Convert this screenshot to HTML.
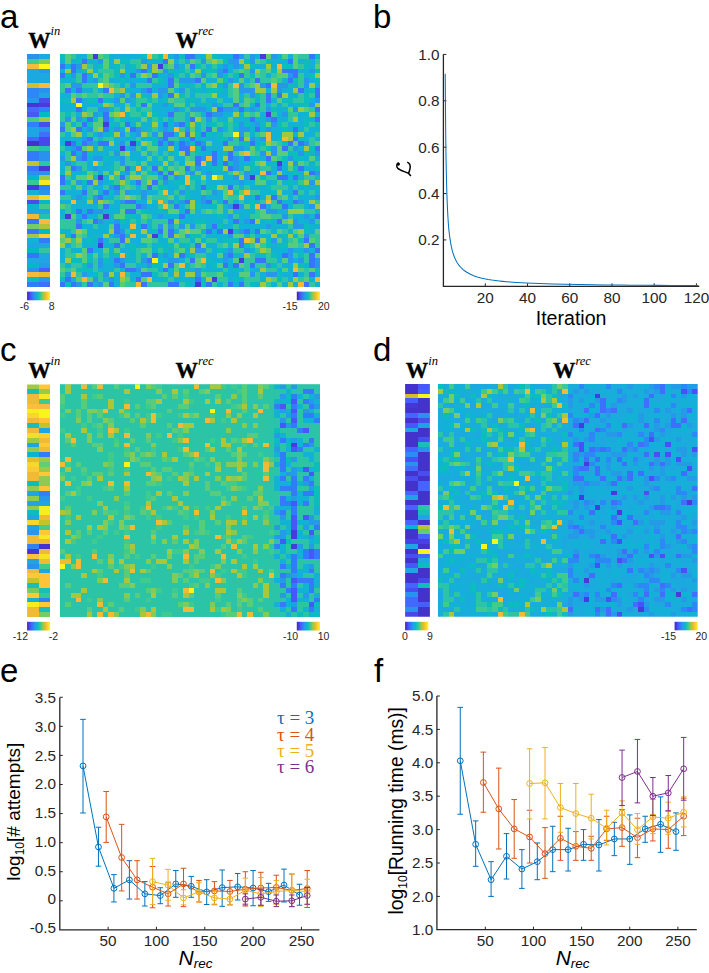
<!DOCTYPE html><html><head><meta charset="utf-8"><style>html,body{margin:0;padding:0;background:#fff;width:709px;height:973px;overflow:hidden}svg{display:block}</style></head><body>
<svg width="709" height="973" viewBox="0 0 709 973" style="position:absolute;left:0;top:0">
<g stroke-width="1" fill="none">
</g>
<svg x="60" y="54" width="260" height="233" viewBox="0 0 48 48" preserveAspectRatio="none" shape-rendering="crispEdges"><path stroke="#463cde" d="M6 0.5h1M37 0.5h1M18 2.5h1M38 12.5h1M8 14.5h1M1 18.5h1M13 18.5h1M11 19.5h1M40 22.5h1M7 25.5h1M35 25.5h1M32 31.5h1M1 33.5h1M8 33.5h1M31 36.5h1M17 37.5h1M7 39.5h1M33 42.5h1M28 46.5h1M25 47.5h1"/><path stroke="#3875fe" d="M23 0.5h2M32 0.5h1M46 0.5h1M4 1.5h1M19 1.5h1M42 1.5h1M0 2.5h1M2 2.5h1M24 2.5h1M2 3.5h1M15 3.5h1M30 3.5h1M41 3.5h3M0 4.5h1M4 4.5h1M13 4.5h1M17 4.5h1M33 4.5h1M43 4.5h1M4 5.5h1M16 5.5h1M20 5.5h1M25 5.5h1M36 5.5h1M42 5.5h1M20 6.5h1M38 6.5h1M1 7.5h1M3 7.5h1M8 7.5h1M16 7.5h1M44 7.5h1M47 7.5h1M20 8.5h1M38 8.5h1M40 8.5h1M47 8.5h1M3 9.5h1M7 9.5h1M38 9.5h1M15 10.5h1M32 10.5h1M36 10.5h1M3 11.5h1M29 11.5h1M33 11.5h1M47 11.5h1M8 12.5h1M20 12.5h1M27 12.5h1M5 13.5h1M8 13.5h1M24 13.5h1M35 13.5h1M39 13.5h1M47 13.5h1M4 14.5h1M12 14.5h1M19 14.5h1M22 14.5h1M0 15.5h1M3 15.5h1M8 15.5h1M13 15.5h1M27 15.5h1M36 15.5h1M43 15.5h1M19 16.5h2M23 16.5h1M26 16.5h1M5 17.5h1M19 17.5h1M24 17.5h1M33 17.5h1M43 17.5h1M2 18.5h1M4 18.5h1M7 18.5h2M18 18.5h1M20 18.5h1M22 18.5h1M25 18.5h1M30 18.5h1M35 18.5h1M42 18.5h1M44 18.5h1M3 19.5h1M22 19.5h2M26 19.5h1M41 19.5h1M47 19.5h1M2 20.5h1M4 20.5h1M23 20.5h1M28 20.5h1M31 20.5h1M4 21.5h1M25 21.5h1M28 21.5h1M31 21.5h1M34 21.5h1M38 21.5h1M25 22.5h1M28 22.5h1M30 22.5h1M2 23.5h1M12 23.5h1M17 23.5h1M23 23.5h1M31 23.5h1M40 23.5h1M44 23.5h1M18 24.5h1M20 24.5h1M38 24.5h1M46 24.5h1M0 25.5h1M11 25.5h1M19 25.5h1M40 25.5h2M43 25.5h1M0 26.5h1M5 26.5h1M14 26.5h1M17 26.5h1M10 27.5h1M16 27.5h1M26 27.5h1M31 27.5h1M0 28.5h1M4 28.5h1M8 28.5h1M43 28.5h1M7 29.5h1M36 29.5h1M39 29.5h1M12 30.5h2M23 30.5h1M27 30.5h1M30 30.5h1M40 30.5h1M43 30.5h1M8 31.5h1M14 31.5h1M21 31.5h1M37 31.5h1M41 31.5h1M3 32.5h1M5 32.5h1M12 32.5h2M23 32.5h1M4 33.5h1M22 33.5h1M47 33.5h1M6 34.5h1M20 34.5h1M32 34.5h1M35 34.5h1M40 34.5h1M3 35.5h1M10 35.5h1M15 35.5h1M28 35.5h1M10 36.5h1M18 36.5h1M20 36.5h1M27 36.5h1M29 36.5h1M34 36.5h1M36 36.5h1M2 37.5h1M11 37.5h1M20 37.5h1M7 38.5h1M11 38.5h1M33 38.5h1M36 38.5h1M45 38.5h1M10 39.5h1M25 39.5h1M33 39.5h1M46 39.5h1M5 40.5h1M47 40.5h1M17 41.5h1M22 41.5h1M31 41.5h1M41 41.5h1M46 41.5h1M10 42.5h1M16 42.5h1M24 42.5h1M36 42.5h2M46 42.5h1M11 43.5h1M20 43.5h1M30 43.5h1M32 43.5h1M35 43.5h1M46 43.5h1M12 44.5h2M19 44.5h1M15 45.5h2M43 45.5h1M46 45.5h1M1 46.5h1M14 46.5h1M25 46.5h1M0 47.5h1M2 47.5h1M5 47.5h1M9 47.5h1M15 47.5h1M20 47.5h2M27 47.5h1M31 47.5h1M33 47.5h1M45 47.5h1"/><path stroke="#2797eb" d="M21 0.5h1M33 0.5h1M35 0.5h1M39 0.5h1M7 1.5h1M15 1.5h1M26 1.5h1M31 1.5h2M35 1.5h1M3 2.5h1M16 2.5h1M21 2.5h1M30 2.5h1M32 2.5h1M14 3.5h1M19 3.5h1M29 3.5h1M35 3.5h1M46 3.5h1M2 4.5h1M11 4.5h1M20 4.5h1M26 4.5h1M29 4.5h1M42 4.5h1M6 5.5h1M22 5.5h3M31 5.5h1M45 5.5h1M2 6.5h2M13 6.5h1M30 6.5h1M33 6.5h1M37 6.5h1M40 6.5h2M45 6.5h1M15 7.5h1M18 7.5h2M22 7.5h1M33 7.5h3M40 7.5h1M11 8.5h1M13 8.5h1M18 8.5h1M35 8.5h1M10 9.5h1M12 9.5h1M47 9.5h1M19 10.5h1M28 10.5h1M46 10.5h1M7 11.5h2M21 11.5h1M24 11.5h3M30 11.5h2M35 11.5h1M38 11.5h1M43 11.5h1M6 12.5h1M28 12.5h2M41 12.5h1M1 13.5h1M3 13.5h1M27 13.5h1M38 13.5h1M0 14.5h1M21 14.5h1M33 14.5h1M36 14.5h1M39 14.5h1M5 15.5h1M10 15.5h1M14 15.5h1M19 15.5h1M23 15.5h1M29 15.5h1M33 15.5h2M38 15.5h1M7 16.5h1M11 16.5h1M14 16.5h1M17 16.5h1M33 16.5h1M4 17.5h1M18 17.5h1M31 17.5h1M35 17.5h1M37 17.5h1M5 18.5h1M11 18.5h1M23 18.5h1M26 18.5h1M45 18.5h1M2 19.5h1M13 19.5h1M32 19.5h2M39 19.5h1M43 19.5h1M10 20.5h1M37 20.5h1M39 20.5h1M44 20.5h1M47 20.5h1M0 21.5h1M3 21.5h1M6 21.5h2M11 21.5h1M26 21.5h1M32 21.5h1M42 21.5h1M1 22.5h1M11 22.5h1M32 22.5h1M43 22.5h1M3 23.5h1M6 23.5h1M25 23.5h1M32 23.5h1M12 24.5h1M24 24.5h1M27 24.5h1M34 24.5h1M47 24.5h1M21 25.5h1M32 25.5h1M34 25.5h1M3 26.5h1M7 26.5h1M19 26.5h1M33 26.5h1M46 26.5h1M9 27.5h1M10 28.5h1M12 28.5h1M15 28.5h1M22 28.5h1M28 28.5h1M3 29.5h1M6 29.5h1M15 29.5h1M26 29.5h1M47 29.5h1M6 30.5h1M11 30.5h1M20 30.5h1M22 30.5h1M26 30.5h1M44 30.5h1M15 31.5h1M31 31.5h1M33 31.5h1M46 31.5h1M6 32.5h2M38 32.5h2M18 33.5h1M31 33.5h1M41 33.5h1M45 33.5h1M3 34.5h1M7 34.5h1M10 34.5h1M34 34.5h1M43 34.5h1M46 34.5h1M18 35.5h1M20 35.5h1M22 35.5h1M24 35.5h1M38 35.5h1M43 35.5h2M11 36.5h1M33 36.5h1M10 37.5h1M23 37.5h1M31 37.5h1M45 37.5h1M39 38.5h1M25 40.5h2M31 40.5h1M34 40.5h1M42 40.5h1M45 40.5h1M19 41.5h1M30 41.5h1M42 41.5h1M7 42.5h1M11 42.5h1M15 42.5h1M20 42.5h2M30 42.5h1M42 42.5h1M44 42.5h1M47 42.5h1M5 43.5h1M7 43.5h1M10 43.5h1M16 43.5h1M38 43.5h1M47 43.5h1M14 44.5h1M25 44.5h1M1 45.5h1M4 45.5h1M8 45.5h1M25 45.5h1M35 45.5h1M38 45.5h2M6 46.5h1M9 46.5h1M3 47.5h1M7 47.5h1"/><path stroke="#12b1d6" d="M3 0.5h2M9 0.5h6M20 0.5h1M25 0.5h2M29 0.5h3M36 0.5h1M40 0.5h1M42 0.5h1M0 1.5h1M2 1.5h1M5 1.5h2M9 1.5h1M16 1.5h3M21 1.5h1M23 1.5h1M39 1.5h3M44 1.5h1M46 1.5h1M1 2.5h1M6 2.5h1M9 2.5h1M12 2.5h1M22 2.5h1M27 2.5h1M29 2.5h1M31 2.5h1M33 2.5h1M36 2.5h2M39 2.5h1M46 2.5h1M0 3.5h1M3 3.5h1M6 3.5h1M12 3.5h2M16 3.5h1M21 3.5h1M24 3.5h1M26 3.5h1M31 3.5h1M44 3.5h2M5 4.5h1M18 4.5h2M23 4.5h1M38 4.5h1M45 4.5h1M0 5.5h3M5 5.5h1M9 5.5h2M12 5.5h4M19 5.5h1M27 5.5h2M32 5.5h1M34 5.5h1M41 5.5h1M46 5.5h1M11 6.5h1M17 6.5h3M23 6.5h1M26 6.5h1M29 6.5h1M43 6.5h1M47 6.5h1M2 7.5h1M4 7.5h2M7 7.5h1M12 7.5h3M17 7.5h1M21 7.5h1M24 7.5h1M26 7.5h1M30 7.5h1M38 7.5h1M41 7.5h2M45 7.5h1M0 8.5h2M10 8.5h1M16 8.5h1M19 8.5h1M24 8.5h1M29 8.5h2M33 8.5h1M42 8.5h2M4 9.5h1M9 9.5h1M13 9.5h1M18 9.5h1M23 9.5h1M25 9.5h1M27 9.5h2M30 9.5h2M33 9.5h1M36 9.5h1M39 9.5h1M46 9.5h1M0 10.5h3M4 10.5h3M10 10.5h2M13 10.5h1M17 10.5h2M20 10.5h1M23 10.5h1M25 10.5h2M29 10.5h1M35 10.5h1M38 10.5h1M40 10.5h1M42 10.5h2M0 11.5h3M4 11.5h1M9 11.5h1M11 11.5h1M17 11.5h4M22 11.5h1M27 11.5h1M32 11.5h1M34 11.5h1M36 11.5h1M40 11.5h2M3 12.5h1M7 12.5h1M18 12.5h2M23 12.5h1M26 12.5h1M30 12.5h2M33 12.5h1M37 12.5h1M40 12.5h1M44 12.5h2M47 12.5h1M9 13.5h1M12 13.5h1M14 13.5h1M16 13.5h1M20 13.5h1M23 13.5h1M29 13.5h2M32 13.5h3M36 13.5h2M40 13.5h2M44 13.5h1M46 13.5h1M2 14.5h1M10 14.5h1M13 14.5h1M15 14.5h2M18 14.5h1M20 14.5h1M27 14.5h1M35 14.5h1M42 14.5h3M4 15.5h1M9 15.5h1M11 15.5h1M15 15.5h1M18 15.5h1M20 15.5h1M25 15.5h1M30 15.5h1M32 15.5h1M35 15.5h1M37 15.5h1M39 15.5h2M42 15.5h1M44 15.5h1M46 15.5h2M1 16.5h1M4 16.5h1M6 16.5h1M8 16.5h1M13 16.5h1M21 16.5h1M28 16.5h1M35 16.5h1M39 16.5h2M43 16.5h1M45 16.5h2M0 17.5h4M10 17.5h4M15 17.5h2M22 17.5h1M25 17.5h1M27 17.5h2M36 17.5h1M39 17.5h1M47 17.5h1M0 18.5h1M6 18.5h1M10 18.5h1M14 18.5h1M19 18.5h1M21 18.5h1M28 18.5h2M36 18.5h1M1 19.5h1M6 19.5h1M8 19.5h3M12 19.5h1M15 19.5h1M18 19.5h2M21 19.5h1M27 19.5h3M34 19.5h1M44 19.5h1M0 20.5h1M3 20.5h1M6 20.5h3M13 20.5h2M16 20.5h1M18 20.5h1M20 20.5h1M26 20.5h2M29 20.5h1M46 20.5h1M5 21.5h1M9 21.5h2M13 21.5h3M17 21.5h1M19 21.5h1M21 21.5h2M29 21.5h1M33 21.5h1M35 21.5h1M37 21.5h1M45 21.5h1M47 21.5h1M0 22.5h1M5 22.5h1M8 22.5h2M16 22.5h3M20 22.5h1M22 22.5h1M29 22.5h1M33 22.5h2M38 22.5h1M41 22.5h1M46 22.5h1M0 23.5h1M5 23.5h1M7 23.5h2M15 23.5h1M26 23.5h2M33 23.5h1M36 23.5h1M39 23.5h1M41 23.5h1M45 23.5h2M2 24.5h2M7 24.5h1M9 24.5h1M11 24.5h1M14 24.5h1M17 24.5h1M23 24.5h1M26 24.5h1M28 24.5h3M35 24.5h2M39 24.5h1M41 24.5h2M44 24.5h1M2 25.5h1M6 25.5h1M8 25.5h1M18 25.5h1M22 25.5h1M27 25.5h1M30 25.5h2M42 25.5h1M44 25.5h1M1 26.5h1M8 26.5h1M13 26.5h1M20 26.5h1M25 26.5h1M27 26.5h6M34 26.5h2M38 26.5h1M41 26.5h1M43 26.5h1M4 27.5h1M6 27.5h2M14 27.5h1M20 27.5h2M23 27.5h1M25 27.5h1M33 27.5h1M35 27.5h3M42 27.5h1M44 27.5h1M46 27.5h1M1 28.5h3M7 28.5h1M13 28.5h2M16 28.5h2M20 28.5h1M24 28.5h2M29 28.5h1M37 28.5h2M41 28.5h2M45 28.5h1M47 28.5h1M2 29.5h1M4 29.5h1M8 29.5h2M21 29.5h1M24 29.5h2M27 29.5h3M34 29.5h2M37 29.5h1M42 29.5h1M44 29.5h3M0 30.5h2M3 30.5h2M10 30.5h1M14 30.5h2M25 30.5h1M29 30.5h1M32 30.5h1M34 30.5h1M36 30.5h1M41 30.5h2M45 30.5h1M2 31.5h5M9 31.5h2M16 31.5h2M22 31.5h1M26 31.5h2M30 31.5h1M38 31.5h1M42 31.5h1M45 31.5h1M0 32.5h1M4 32.5h1M8 32.5h3M16 32.5h2M19 32.5h1M22 32.5h1M25 32.5h1M30 32.5h1M32 32.5h4M40 32.5h2M47 32.5h1M0 33.5h1M3 33.5h1M5 33.5h2M9 33.5h1M14 33.5h1M17 33.5h1M19 33.5h3M23 33.5h6M30 33.5h1M33 33.5h2M43 33.5h2M46 33.5h1M8 34.5h2M12 34.5h1M16 34.5h1M23 34.5h2M27 34.5h3M31 34.5h1M33 34.5h1M37 34.5h1M39 34.5h1M44 34.5h2M4 35.5h2M7 35.5h2M11 35.5h2M14 35.5h1M16 35.5h1M27 35.5h1M30 35.5h2M33 35.5h5M39 35.5h3M46 35.5h2M0 36.5h2M5 36.5h4M14 36.5h1M16 36.5h1M21 36.5h1M26 36.5h1M28 36.5h1M32 36.5h1M35 36.5h1M39 36.5h1M42 36.5h1M46 36.5h1M1 37.5h1M5 37.5h1M7 37.5h1M9 37.5h1M12 37.5h1M14 37.5h2M18 37.5h1M27 37.5h4M34 37.5h1M36 37.5h3M40 37.5h1M43 37.5h1M4 38.5h1M6 38.5h1M8 38.5h1M13 38.5h2M18 38.5h2M21 38.5h1M24 38.5h1M26 38.5h1M29 38.5h1M41 38.5h1M1 39.5h1M4 39.5h3M8 39.5h2M12 39.5h1M14 39.5h2M17 39.5h1M19 39.5h1M22 39.5h1M27 39.5h2M39 39.5h1M0 40.5h1M2 40.5h2M6 40.5h2M9 40.5h1M11 40.5h2M17 40.5h1M20 40.5h1M23 40.5h1M28 40.5h1M30 40.5h1M35 40.5h1M39 40.5h3M43 40.5h2M46 40.5h1M0 41.5h1M7 41.5h1M9 41.5h1M13 41.5h1M15 41.5h1M18 41.5h1M20 41.5h1M23 41.5h1M27 41.5h2M32 41.5h2M40 41.5h1M0 42.5h1M9 42.5h1M12 42.5h2M18 42.5h2M22 42.5h1M28 42.5h2M31 42.5h1M40 42.5h1M43 42.5h1M1 43.5h1M8 43.5h2M14 43.5h2M23 43.5h1M27 43.5h1M31 43.5h1M41 43.5h2M45 43.5h1M7 44.5h3M11 44.5h1M18 44.5h1M20 44.5h1M22 44.5h1M24 44.5h1M27 44.5h3M31 44.5h1M33 44.5h1M35 44.5h2M40 44.5h1M42 44.5h1M5 45.5h1M10 45.5h1M13 45.5h2M20 45.5h1M22 45.5h1M31 45.5h2M37 45.5h1M41 45.5h2M44 45.5h1M47 45.5h1M2 46.5h1M8 46.5h1M10 46.5h1M13 46.5h1M17 46.5h2M21 46.5h4M26 46.5h1M31 46.5h1M33 46.5h1M37 46.5h1M42 46.5h1M46 46.5h1M6 47.5h1M10 47.5h1M24 47.5h1M29 47.5h1M32 47.5h1M36 47.5h1M39 47.5h1M41 47.5h1M43 47.5h1M47 47.5h1"/><path stroke="#0bbdbd" d="M0 0.5h1M15 0.5h1M18 0.5h1M22 0.5h1M28 0.5h1M47 0.5h1M3 1.5h1M11 1.5h2M30 1.5h1M34 1.5h1M38 1.5h1M45 1.5h1M7 2.5h1M10 2.5h1M13 2.5h1M25 2.5h1M35 2.5h1M41 2.5h2M45 2.5h1M4 3.5h1M10 3.5h1M20 3.5h1M22 3.5h1M27 3.5h2M39 3.5h1M47 3.5h1M1 4.5h1M7 4.5h1M10 4.5h1M12 4.5h1M21 4.5h1M30 4.5h1M32 4.5h1M35 4.5h1M46 4.5h1M11 5.5h1M18 5.5h1M30 5.5h1M43 5.5h1M47 5.5h1M22 6.5h1M24 6.5h1M42 6.5h1M25 7.5h1M27 7.5h3M46 7.5h1M15 8.5h1M22 8.5h1M36 8.5h1M45 8.5h1M0 9.5h2M5 9.5h2M8 9.5h1M16 9.5h1M19 9.5h1M24 9.5h1M41 9.5h2M45 9.5h1M7 10.5h1M27 10.5h1M44 10.5h2M14 11.5h1M39 11.5h1M1 12.5h1M12 12.5h1M15 12.5h1M17 12.5h1M4 13.5h1M6 13.5h1M11 13.5h1M13 13.5h1M18 13.5h1M45 13.5h1M5 14.5h1M9 14.5h1M23 14.5h1M25 14.5h1M28 14.5h1M30 14.5h1M32 14.5h1M34 14.5h1M37 14.5h1M40 14.5h1M45 14.5h1M47 14.5h1M16 15.5h1M41 15.5h1M9 16.5h1M25 16.5h1M27 16.5h1M29 16.5h1M7 17.5h1M17 17.5h1M23 17.5h1M26 17.5h1M29 17.5h2M40 17.5h1M44 17.5h2M3 18.5h1M17 18.5h1M24 18.5h1M33 18.5h2M37 18.5h1M41 18.5h1M25 19.5h1M36 19.5h1M38 19.5h1M46 19.5h1M5 20.5h1M21 20.5h1M25 20.5h1M30 20.5h1M42 20.5h2M45 20.5h1M8 21.5h1M36 21.5h1M41 21.5h1M43 21.5h2M2 22.5h1M14 22.5h1M27 22.5h1M31 22.5h1M35 22.5h1M39 22.5h1M9 23.5h1M13 23.5h1M19 23.5h1M28 23.5h2M35 23.5h1M43 23.5h1M47 23.5h1M0 24.5h1M4 24.5h1M16 24.5h1M43 24.5h1M24 25.5h2M37 25.5h1M47 25.5h1M4 26.5h1M9 26.5h1M21 26.5h2M39 26.5h1M42 26.5h1M2 27.5h1M18 27.5h2M27 27.5h2M38 27.5h1M45 27.5h1M47 27.5h1M9 28.5h1M23 28.5h1M32 28.5h1M39 28.5h1M23 29.5h1M17 30.5h1M21 30.5h1M35 30.5h1M25 31.5h1M28 31.5h1M35 31.5h1M2 32.5h1M15 32.5h1M18 32.5h1M12 33.5h2M29 33.5h1M11 34.5h1M14 34.5h1M22 34.5h1M25 34.5h2M38 34.5h1M29 35.5h1M45 35.5h1M13 36.5h1M17 36.5h1M45 36.5h1M6 37.5h1M24 37.5h2M41 37.5h1M5 38.5h1M30 38.5h3M38 38.5h1M44 38.5h1M13 39.5h1M18 39.5h1M20 39.5h1M23 39.5h1M31 39.5h1M34 39.5h1M38 39.5h1M40 39.5h2M13 40.5h1M19 40.5h1M29 40.5h1M5 41.5h1M10 41.5h1M12 41.5h1M24 41.5h1M36 41.5h2M39 41.5h1M44 41.5h1M2 42.5h2M5 42.5h1M8 42.5h1M27 42.5h1M4 43.5h1M17 43.5h2M28 43.5h1M39 43.5h1M44 43.5h1M3 44.5h3M23 44.5h1M26 44.5h1M32 44.5h1M47 44.5h1M6 45.5h1M17 45.5h1M30 45.5h1M40 45.5h1M0 46.5h1M19 46.5h1M32 46.5h1M40 46.5h1M1 47.5h1M23 47.5h1M26 47.5h1M35 47.5h1"/><path stroke="#31c69f" d="M2 0.5h1M8 0.5h1M17 0.5h1M34 0.5h1M44 0.5h2M13 1.5h2M22 1.5h1M25 1.5h1M37 1.5h1M47 1.5h1M5 2.5h1M11 2.5h1M14 2.5h1M19 2.5h1M26 2.5h1M28 2.5h1M44 2.5h1M7 3.5h3M23 3.5h1M32 3.5h1M34 3.5h1M37 3.5h1M3 4.5h1M9 4.5h1M14 4.5h1M22 4.5h1M25 4.5h1M27 4.5h1M31 4.5h1M34 4.5h1M37 4.5h1M39 4.5h1M44 4.5h1M3 5.5h1M7 5.5h1M17 5.5h1M21 5.5h1M35 5.5h1M37 5.5h2M40 5.5h1M44 5.5h1M0 6.5h1M4 6.5h3M10 6.5h1M12 6.5h1M14 6.5h3M25 6.5h1M31 6.5h1M34 6.5h1M44 6.5h1M0 7.5h1M6 7.5h1M23 7.5h1M31 7.5h1M3 8.5h1M5 8.5h2M8 8.5h2M12 8.5h1M23 8.5h1M25 8.5h3M31 8.5h1M34 8.5h1M37 8.5h1M39 8.5h1M44 8.5h1M46 8.5h1M14 9.5h2M17 9.5h1M21 9.5h2M26 9.5h1M29 9.5h1M35 9.5h1M37 9.5h1M43 9.5h2M14 10.5h1M24 10.5h1M30 10.5h2M33 10.5h1M37 10.5h1M39 10.5h1M41 10.5h1M5 11.5h2M10 11.5h1M13 11.5h1M15 11.5h2M23 11.5h1M37 11.5h1M46 11.5h1M0 12.5h1M2 12.5h1M13 12.5h2M21 12.5h2M25 12.5h1M35 12.5h1M39 12.5h1M42 12.5h2M0 13.5h1M10 13.5h1M17 13.5h1M19 13.5h1M21 13.5h2M26 13.5h1M28 13.5h1M42 13.5h1M3 14.5h1M11 14.5h1M26 14.5h1M29 14.5h1M31 14.5h1M41 14.5h1M46 14.5h1M17 15.5h1M22 15.5h1M26 15.5h1M31 15.5h1M45 15.5h1M0 16.5h1M5 16.5h1M12 16.5h1M16 16.5h1M30 16.5h2M36 16.5h1M47 16.5h1M6 17.5h1M8 17.5h2M14 17.5h1M20 17.5h2M32 17.5h1M46 17.5h1M12 18.5h1M31 18.5h2M40 18.5h1M46 18.5h1M0 19.5h1M14 19.5h1M37 19.5h1M42 19.5h1M1 20.5h1M9 20.5h1M17 20.5h1M19 20.5h1M24 20.5h1M32 20.5h1M36 20.5h1M1 21.5h1M12 21.5h1M18 21.5h1M24 21.5h1M40 21.5h1M3 22.5h2M7 22.5h1M10 22.5h1M12 22.5h2M21 22.5h1M45 22.5h1M47 22.5h1M4 23.5h1M10 23.5h1M16 23.5h1M21 23.5h1M24 23.5h1M37 23.5h2M6 24.5h1M19 24.5h1M31 24.5h1M33 24.5h1M1 25.5h1M10 25.5h1M12 25.5h1M15 25.5h1M20 25.5h1M38 25.5h2M45 25.5h2M10 26.5h1M12 26.5h1M15 26.5h1M18 26.5h1M24 26.5h1M26 26.5h1M44 26.5h1M0 27.5h2M5 27.5h1M8 27.5h1M11 27.5h1M13 27.5h1M15 27.5h1M17 27.5h1M22 27.5h1M24 27.5h1M32 27.5h1M34 27.5h1M39 27.5h3M43 27.5h1M5 28.5h1M18 28.5h1M21 28.5h1M27 28.5h1M35 28.5h2M44 28.5h1M46 28.5h1M0 29.5h2M5 29.5h1M10 29.5h1M14 29.5h1M17 29.5h3M22 29.5h1M31 29.5h2M40 29.5h1M43 29.5h1M9 30.5h1M19 30.5h1M28 30.5h1M31 30.5h1M33 30.5h1M37 30.5h1M39 30.5h1M47 30.5h1M1 31.5h1M7 31.5h1M11 31.5h3M18 31.5h1M20 31.5h1M23 31.5h1M39 31.5h2M43 31.5h2M1 32.5h1M14 32.5h1M26 32.5h1M28 32.5h1M36 32.5h1M45 32.5h2M7 33.5h1M16 33.5h1M32 33.5h1M35 33.5h2M39 33.5h2M42 33.5h1M0 34.5h3M4 34.5h1M13 34.5h1M15 34.5h1M17 34.5h3M30 34.5h1M47 34.5h1M0 35.5h3M6 35.5h1M17 35.5h1M21 35.5h1M25 35.5h1M32 35.5h1M42 35.5h1M2 36.5h1M12 36.5h1M38 36.5h1M41 36.5h1M4 37.5h1M26 37.5h1M35 37.5h1M46 37.5h2M2 38.5h1M9 38.5h2M17 38.5h1M22 38.5h2M27 38.5h2M42 38.5h1M47 38.5h1M2 39.5h1M11 39.5h1M16 39.5h1M24 39.5h1M29 39.5h1M35 39.5h1M37 39.5h1M44 39.5h1M47 39.5h1M1 40.5h1M14 40.5h1M18 40.5h1M21 40.5h1M27 40.5h1M32 40.5h2M36 40.5h1M1 41.5h2M8 41.5h1M14 41.5h1M25 41.5h2M35 41.5h1M38 41.5h1M43 41.5h1M45 41.5h1M6 42.5h1M14 42.5h1M23 42.5h1M34 42.5h2M38 42.5h2M45 42.5h1M0 43.5h1M2 43.5h2M6 43.5h1M12 43.5h2M24 43.5h1M26 43.5h1M34 43.5h1M36 43.5h2M40 43.5h1M1 44.5h1M6 44.5h1M10 44.5h1M16 44.5h2M30 44.5h1M34 44.5h1M38 44.5h2M45 44.5h1M0 45.5h1M3 45.5h1M7 45.5h1M12 45.5h1M18 45.5h1M27 45.5h2M36 45.5h1M45 45.5h1M7 46.5h1M20 46.5h1M29 46.5h2M34 46.5h3M41 46.5h1M44 46.5h1M4 47.5h1M12 47.5h2M16 47.5h4M22 47.5h1M28 47.5h1M30 47.5h1M34 47.5h1M38 47.5h1M46 47.5h1"/><path stroke="#57cc7a" d="M1 0.5h1M5 0.5h1M7 0.5h1M38 0.5h1M41 0.5h1M43 0.5h1M1 1.5h1M8 1.5h1M24 1.5h1M27 1.5h1M29 1.5h1M36 1.5h1M43 1.5h1M8 2.5h1M20 2.5h1M23 2.5h1M43 2.5h1M47 2.5h1M18 3.5h1M33 3.5h1M38 3.5h1M8 4.5h1M16 4.5h1M24 4.5h1M28 4.5h1M36 4.5h1M40 4.5h2M8 5.5h1M26 5.5h1M29 5.5h1M33 5.5h1M39 5.5h1M1 6.5h1M9 6.5h1M21 6.5h1M27 6.5h1M35 6.5h1M10 7.5h1M20 7.5h1M32 7.5h1M2 8.5h1M4 8.5h1M7 8.5h1M32 8.5h1M11 9.5h1M20 9.5h1M32 9.5h1M34 9.5h1M40 9.5h1M9 10.5h1M12 10.5h1M16 10.5h1M21 10.5h2M34 10.5h1M42 11.5h1M45 11.5h1M5 12.5h1M9 12.5h1M24 12.5h1M34 12.5h1M36 12.5h1M2 13.5h1M7 13.5h1M15 13.5h1M31 13.5h1M1 14.5h1M6 14.5h2M14 14.5h1M38 14.5h1M1 15.5h1M6 15.5h1M24 15.5h1M28 15.5h1M2 16.5h1M18 16.5h1M34 16.5h1M37 16.5h1M16 18.5h1M27 18.5h1M39 18.5h1M43 18.5h1M47 18.5h1M4 19.5h1M7 19.5h1M16 19.5h2M35 19.5h1M40 19.5h1M11 20.5h1M15 20.5h1M35 20.5h1M40 20.5h2M16 21.5h1M20 21.5h1M23 21.5h1M39 21.5h1M46 21.5h1M15 22.5h1M36 22.5h1M44 22.5h1M1 23.5h1M11 23.5h1M18 23.5h1M20 23.5h1M22 23.5h1M34 23.5h1M42 23.5h1M5 24.5h1M8 24.5h1M13 24.5h1M15 24.5h1M22 24.5h1M25 24.5h1M3 25.5h2M16 25.5h2M36 25.5h1M2 26.5h1M36 26.5h2M40 26.5h1M3 27.5h1M12 27.5h1M30 27.5h1M6 28.5h1M11 28.5h1M26 28.5h1M30 28.5h1M33 28.5h1M11 29.5h1M13 29.5h1M16 29.5h1M20 29.5h1M30 29.5h1M41 29.5h1M8 30.5h1M0 31.5h1M29 31.5h1M34 31.5h1M11 32.5h1M20 32.5h2M24 32.5h1M27 32.5h1M29 32.5h1M31 32.5h1M37 32.5h1M2 33.5h1M10 33.5h2M15 33.5h1M37 33.5h2M5 34.5h1M41 34.5h1M9 35.5h1M19 35.5h1M23 35.5h1M26 35.5h1M4 36.5h1M19 36.5h1M22 36.5h1M24 36.5h2M37 36.5h1M40 36.5h1M43 36.5h1M47 36.5h1M3 37.5h1M19 37.5h1M22 37.5h1M32 37.5h2M44 37.5h1M0 38.5h1M15 38.5h2M20 38.5h1M25 38.5h1M40 38.5h1M43 38.5h1M46 38.5h1M3 39.5h1M21 39.5h1M30 39.5h1M42 39.5h2M4 40.5h1M8 40.5h1M10 40.5h1M15 40.5h2M22 40.5h1M38 40.5h1M4 41.5h1M6 41.5h1M16 41.5h1M29 41.5h1M47 41.5h1M4 42.5h1M25 42.5h1M32 42.5h1M41 42.5h1M21 43.5h1M25 43.5h1M29 43.5h1M33 43.5h1M0 44.5h1M2 44.5h1M15 44.5h1M21 44.5h1M41 44.5h1M44 44.5h1M46 44.5h1M19 45.5h1M26 45.5h1M29 45.5h1M33 45.5h2M3 46.5h1M5 46.5h1M12 46.5h1M15 46.5h1M39 46.5h1M45 46.5h1M8 47.5h1M11 47.5h1M40 47.5h1"/><path stroke="#9dc943" d="M27 0.5h1M10 1.5h1M20 1.5h1M28 1.5h1M33 1.5h1M4 2.5h1M15 2.5h1M17 2.5h1M34 2.5h1M38 2.5h1M1 3.5h1M5 3.5h1M11 3.5h1M17 3.5h1M25 3.5h1M36 3.5h1M40 3.5h1M6 4.5h1M15 4.5h1M47 4.5h1M8 6.5h1M28 6.5h1M36 6.5h1M46 6.5h1M11 7.5h1M36 7.5h2M39 7.5h1M43 7.5h1M14 8.5h1M17 8.5h1M21 8.5h1M28 8.5h1M41 8.5h1M2 9.5h1M8 10.5h1M47 10.5h1M12 11.5h1M28 11.5h1M44 11.5h1M4 12.5h1M10 12.5h1M16 12.5h1M32 12.5h1M46 12.5h1M25 13.5h1M43 13.5h1M17 14.5h1M24 14.5h1M2 15.5h1M7 15.5h1M12 15.5h1M3 16.5h1M10 16.5h1M15 16.5h1M22 16.5h1M24 16.5h1M41 16.5h2M44 16.5h1M34 17.5h1M42 17.5h1M9 18.5h1M15 18.5h1M38 18.5h1M5 19.5h1M20 19.5h1M30 19.5h2M45 19.5h1M12 20.5h1M22 20.5h1M33 20.5h1M38 20.5h1M2 21.5h1M30 21.5h1M19 22.5h1M23 22.5h2M37 22.5h1M42 22.5h1M30 23.5h1M1 24.5h1M10 24.5h1M21 24.5h1M32 24.5h1M40 24.5h1M45 24.5h1M5 25.5h1M9 25.5h1M13 25.5h2M26 25.5h1M29 25.5h1M33 25.5h1M6 26.5h1M11 26.5h1M16 26.5h1M45 26.5h1M47 26.5h1M29 27.5h1M40 28.5h1M12 29.5h1M38 29.5h1M5 30.5h1M7 30.5h1M16 30.5h1M24 30.5h1M46 30.5h1M24 31.5h1M47 31.5h1M42 32.5h3M21 34.5h1M36 34.5h1M42 34.5h1M3 36.5h1M9 36.5h1M15 36.5h1M23 36.5h1M30 36.5h1M44 36.5h1M0 37.5h1M8 37.5h1M16 37.5h1M21 37.5h1M39 37.5h1M42 37.5h1M1 38.5h1M3 38.5h1M12 38.5h1M35 38.5h1M37 38.5h1M0 39.5h1M26 39.5h1M32 39.5h1M36 39.5h1M45 39.5h1M24 40.5h1M37 40.5h1M3 41.5h1M21 41.5h1M34 41.5h1M1 42.5h1M19 43.5h1M43 43.5h1M37 44.5h1M9 45.5h1M21 45.5h1M23 45.5h2M11 46.5h1M27 46.5h1M38 46.5h1M43 46.5h1M37 47.5h1M42 47.5h1"/><path stroke="#f0ba36" d="M16 0.5h1M19 0.5h1M40 2.5h1M32 6.5h1M39 6.5h1M9 7.5h1M11 12.5h1M21 15.5h1M38 16.5h1M38 17.5h1M41 17.5h1M24 19.5h1M34 20.5h1M27 21.5h1M6 22.5h1M26 22.5h1M14 23.5h1M37 24.5h1M23 25.5h1M23 26.5h1M19 28.5h1M31 28.5h1M34 28.5h1M33 29.5h1M2 30.5h1M18 30.5h1M38 30.5h1M19 31.5h1M36 31.5h1M13 35.5h1M13 37.5h1M34 38.5h1M11 41.5h1M26 42.5h1M22 43.5h1M43 44.5h1M2 45.5h1M11 45.5h1M4 46.5h1M16 46.5h1M47 46.5h1M14 47.5h1M44 47.5h1"/><path stroke="#f7f51b" d="M7 6.5h1M3 10.5h1M32 16.5h1M28 25.5h1M17 42.5h1"/></svg>
<svg x="27.1" y="54" width="23" height="233" viewBox="0 0 2 48" preserveAspectRatio="none" shape-rendering="crispEdges"><path stroke="#4332cb" d="M0 18.5h1"/><path stroke="#4537d5" d="M0 10.5h1M1 23.5h1"/><path stroke="#463cde" d="M1 10.5h1M0 27.5h1"/><path stroke="#4747eb" d="M1 17.5h1M1 18.5h1"/><path stroke="#484df0" d="M1 9.5h1M1 14.5h1M0 30.5h1"/><path stroke="#4758f8" d="M0 12.5h1"/><path stroke="#465efb" d="M1 44.5h1"/><path stroke="#4269fe" d="M0 11.5h1M0 17.5h1"/><path stroke="#3e6fff" d="M1 16.5h1M1 47.5h1"/><path stroke="#3875fe" d="M0 23.5h1M0 34.5h1M0 36.5h1M0 41.5h1"/><path stroke="#327cfc" d="M0 20.5h1M0 21.5h1M1 38.5h1M0 47.5h1"/><path stroke="#2f81fa" d="M1 11.5h1M0 14.5h1M1 27.5h1"/><path stroke="#2e87f7" d="M0 7.5h1M0 8.5h1"/><path stroke="#2b91ef" d="M0 0.5h1M1 7.5h1M1 20.5h1M1 21.5h1M0 24.5h2M0 44.5h1"/><path stroke="#2797eb" d="M1 3.5h1M1 15.5h1M1 28.5h1M1 46.5h1"/><path stroke="#259be8" d="M0 9.5h1M1 43.5h1"/><path stroke="#20a5e3" d="M1 8.5h1M0 15.5h1M0 16.5h1M0 32.5h2M0 39.5h1M1 41.5h1M1 42.5h1"/><path stroke="#1ca9df" d="M1 0.5h1M0 3.5h1M0 4.5h2M0 5.5h2M1 39.5h1M0 42.5h1"/><path stroke="#12b1d6" d="M0 28.5h1M0 38.5h1"/><path stroke="#08b5d0" d="M0 25.5h1M0 31.5h1"/><path stroke="#02bac3" d="M1 12.5h1M1 30.5h1M1 36.5h1M0 40.5h1M0 43.5h1"/><path stroke="#0bbdbd" d="M0 46.5h1"/><path stroke="#24c1ae" d="M1 19.5h1M1 33.5h1"/><path stroke="#2cc4a7" d="M1 22.5h1"/><path stroke="#31c69f" d="M1 40.5h1"/><path stroke="#37c897" d="M0 26.5h1"/><path stroke="#3fca8e" d="M0 1.5h1M0 19.5h1M1 31.5h1"/><path stroke="#4acb84" d="M0 13.5h1"/><path stroke="#72cd64" d="M0 35.5h1"/><path stroke="#81cc59" d="M1 1.5h1"/><path stroke="#9dc943" d="M1 13.5h1M1 25.5h1M0 37.5h1"/><path stroke="#abc739" d="M1 35.5h1"/><path stroke="#c5c22a" d="M0 22.5h1"/><path stroke="#d1bf27" d="M0 6.5h1"/><path stroke="#e6bb2d" d="M0 29.5h1M1 45.5h1"/><path stroke="#f0ba36" d="M0 33.5h1"/><path stroke="#f8ba3d" d="M0 2.5h1M1 6.5h1M1 34.5h1M0 45.5h1"/><path stroke="#fccf30" d="M1 37.5h1"/><path stroke="#f7dc2a" d="M1 29.5h1"/><path stroke="#f5e924" d="M1 26.5h1"/><path stroke="#f9fb15" d="M1 2.5h1"/></svg>
<rect x="60" y="384.4" width="260" height="232.6" fill="#2cc4a7"/>
<svg x="60" y="384.4" width="214.2" height="232.6" viewBox="0 0 40 48" preserveAspectRatio="none" shape-rendering="crispEdges"><path stroke="#2cc4a7" d="M0 0.5h1M2 0.5h2M5 0.5h1M8 0.5h2M11 0.5h3M15 0.5h1M19 0.5h6M26 0.5h2M31 0.5h1M33 0.5h1M35 0.5h2M39 0.5h1M0 1.5h1M2 1.5h10M13 1.5h5M19 1.5h2M22 1.5h1M24 1.5h2M28 1.5h5M35 1.5h2M38 1.5h2M1 2.5h3M5 2.5h1M8 2.5h11M20 2.5h1M22 2.5h1M24 2.5h5M30 2.5h2M33 2.5h1M35 2.5h2M38 2.5h2M1 3.5h3M5 3.5h4M10 3.5h2M13 3.5h3M19 3.5h4M25 3.5h2M28 3.5h1M30 3.5h1M32 3.5h2M35 3.5h5M1 4.5h3M5 4.5h4M10 4.5h2M13 4.5h1M15 4.5h1M18 4.5h4M24 4.5h8M35 4.5h1M37 4.5h1M39 4.5h1M0 5.5h1M2 5.5h1M4 5.5h1M9 5.5h2M13 5.5h7M21 5.5h7M29 5.5h2M32 5.5h2M35 5.5h2M38 5.5h2M1 6.5h2M4 6.5h1M6 6.5h1M8 6.5h3M13 6.5h1M15 6.5h1M19 6.5h3M26 6.5h2M29 6.5h2M32 6.5h1M34 6.5h2M37 6.5h3M0 7.5h3M4 7.5h1M6 7.5h2M10 7.5h3M14 7.5h1M18 7.5h9M29 7.5h1M31 7.5h1M33 7.5h7M0 8.5h4M5 8.5h1M8 8.5h1M10 8.5h5M16 8.5h4M21 8.5h1M25 8.5h9M35 8.5h1M37 8.5h3M1 9.5h3M5 9.5h2M8 9.5h1M11 9.5h1M13 9.5h8M24 9.5h7M32 9.5h8M0 10.5h1M2 10.5h3M6 10.5h1M8 10.5h1M10 10.5h2M13 10.5h3M17 10.5h1M19 10.5h1M21 10.5h1M23 10.5h12M37 10.5h3M0 11.5h1M3 11.5h2M6 11.5h4M11 11.5h2M14 11.5h2M17 11.5h4M24 11.5h4M29 11.5h1M31 11.5h1M36 11.5h4M0 12.5h2M3 12.5h3M8 12.5h2M11 12.5h1M13 12.5h4M18 12.5h9M28 12.5h2M32 12.5h2M35 12.5h1M37 12.5h1M39 12.5h1M0 13.5h7M8 13.5h4M13 13.5h1M15 13.5h2M18 13.5h4M24 13.5h3M29 13.5h2M32 13.5h1M34 13.5h6M0 14.5h9M10 14.5h2M14 14.5h1M18 14.5h1M20 14.5h3M26 14.5h6M35 14.5h2M38 14.5h2M0 15.5h1M2 15.5h7M10 15.5h3M15 15.5h4M22 15.5h3M27 15.5h1M29 15.5h4M34 15.5h4M2 16.5h1M4 16.5h4M10 16.5h2M13 16.5h2M17 16.5h7M25 16.5h2M28 16.5h1M30 16.5h1M35 16.5h1M37 16.5h1M0 17.5h1M2 17.5h2M5 17.5h4M10 17.5h2M13 17.5h4M18 17.5h1M21 17.5h3M25 17.5h4M30 17.5h3M34 17.5h4M39 17.5h1M1 18.5h3M5 18.5h1M8 18.5h1M10 18.5h2M13 18.5h3M19 18.5h2M22 18.5h1M25 18.5h2M28 18.5h6M35 18.5h3M39 18.5h1M1 19.5h1M3 19.5h2M6 19.5h1M8 19.5h9M19 19.5h1M21 19.5h1M24 19.5h1M26 19.5h3M30 19.5h1M35 19.5h3M39 19.5h1M0 20.5h1M2 20.5h2M6 20.5h3M10 20.5h2M13 20.5h3M19 20.5h4M24 20.5h3M28 20.5h2M33 20.5h7M0 21.5h3M4 21.5h4M10 21.5h2M13 21.5h14M28 21.5h3M35 21.5h2M38 21.5h2M0 22.5h1M4 22.5h8M13 22.5h3M17 22.5h1M19 22.5h1M21 22.5h2M24 22.5h4M30 22.5h6M38 22.5h2M1 23.5h4M6 23.5h4M11 23.5h5M18 23.5h3M22 23.5h8M31 23.5h1M33 23.5h2M36 23.5h1M38 23.5h2M0 24.5h7M8 24.5h4M13 24.5h3M17 24.5h5M23 24.5h7M32 24.5h5M39 24.5h1M0 25.5h1M2 25.5h6M9 25.5h3M13 25.5h2M17 25.5h2M22 25.5h1M24 25.5h1M26 25.5h1M28 25.5h1M30 25.5h4M35 25.5h1M38 25.5h1M2 26.5h4M7 26.5h1M11 26.5h1M13 26.5h2M18 26.5h4M24 26.5h1M26 26.5h2M29 26.5h5M35 26.5h3M39 26.5h1M0 27.5h1M2 27.5h1M4 27.5h5M10 27.5h2M14 27.5h2M17 27.5h1M19 27.5h4M24 27.5h1M26 27.5h2M29 27.5h2M32 27.5h2M35 27.5h1M37 27.5h1M39 27.5h1M0 28.5h1M2 28.5h6M10 28.5h1M12 28.5h6M21 28.5h5M27 28.5h2M30 28.5h1M33 28.5h1M35 28.5h3M39 28.5h1M0 29.5h5M6 29.5h1M9 29.5h2M14 29.5h4M19 29.5h4M24 29.5h2M27 29.5h4M32 29.5h8M0 30.5h1M2 30.5h1M4 30.5h1M6 30.5h2M9 30.5h1M11 30.5h1M13 30.5h4M18 30.5h5M24 30.5h1M28 30.5h3M33 30.5h6M0 31.5h2M4 31.5h3M8 31.5h4M13 31.5h4M18 31.5h3M22 31.5h7M32 31.5h2M36 31.5h4M0 32.5h1M3 32.5h3M7 32.5h5M13 32.5h4M18 32.5h1M20 32.5h1M22 32.5h1M24 32.5h1M26 32.5h5M35 32.5h4M0 33.5h12M14 33.5h10M26 33.5h4M31 33.5h1M33 33.5h3M37 33.5h1M39 33.5h1M1 34.5h5M7 34.5h5M14 34.5h6M24 34.5h2M27 34.5h2M30 34.5h3M34 34.5h2M37 34.5h2M0 35.5h1M2 35.5h1M4 35.5h2M7 35.5h2M10 35.5h2M13 35.5h1M15 35.5h2M18 35.5h2M21 35.5h2M24 35.5h1M27 35.5h3M31 35.5h3M35 35.5h5M2 36.5h1M4 36.5h3M8 36.5h1M10 36.5h1M12 36.5h4M17 36.5h1M20 36.5h3M24 36.5h1M26 36.5h4M31 36.5h1M33 36.5h3M37 36.5h3M1 37.5h1M4 37.5h5M10 37.5h1M14 37.5h3M18 37.5h2M21 37.5h3M25 37.5h3M30 37.5h4M35 37.5h1M37 37.5h3M0 38.5h6M8 38.5h2M11 38.5h1M14 38.5h1M17 38.5h6M27 38.5h1M29 38.5h1M31 38.5h1M35 38.5h2M38 38.5h1M0 39.5h4M5 39.5h2M8 39.5h4M13 39.5h8M23 39.5h1M26 39.5h2M30 39.5h3M35 39.5h4M0 40.5h7M9 40.5h3M13 40.5h2M17 40.5h4M22 40.5h1M24 40.5h2M28 40.5h1M31 40.5h6M38 40.5h2M0 41.5h1M2 41.5h9M14 41.5h10M26 41.5h1M28 41.5h8M37 41.5h1M39 41.5h1M0 42.5h4M5 42.5h11M19 42.5h2M22 42.5h1M25 42.5h4M31 42.5h2M34 42.5h4M39 42.5h1M0 43.5h2M4 43.5h8M13 43.5h1M15 43.5h2M18 43.5h3M22 43.5h1M25 43.5h4M30 43.5h3M35 43.5h3M39 43.5h1M0 44.5h3M4 44.5h1M6 44.5h1M8 44.5h4M13 44.5h3M17 44.5h12M30 44.5h3M36 44.5h1M38 44.5h2M0 45.5h1M2 45.5h5M8 45.5h1M10 45.5h12M25 45.5h3M29 45.5h2M32 45.5h1M34 45.5h1M36 45.5h4M0 46.5h5M6 46.5h2M9 46.5h2M12 46.5h2M16 46.5h1M18 46.5h5M25 46.5h3M32 46.5h1M34 46.5h3M38 46.5h2M0 47.5h5M6 47.5h1M8 47.5h1M11 47.5h4M18 47.5h1M21 47.5h9M34 47.5h1M36 47.5h2M39 47.5h1"/><path stroke="#3fca8e" d="M18 0.5h1M30 0.5h1M32 0.5h1M33 1.5h1M6 2.5h1M23 2.5h1M12 3.5h1M24 3.5h1M0 4.5h1M16 4.5h1M32 4.5h1M12 5.5h1M0 6.5h1M11 6.5h1M16 6.5h1M18 6.5h1M22 6.5h1M28 6.5h1M16 7.5h1M30 7.5h1M4 8.5h1M6 8.5h1M0 9.5h1M7 9.5h1M12 9.5h1M22 9.5h1M18 10.5h1M22 10.5h1M10 11.5h1M21 11.5h1M28 11.5h1M33 11.5h1M34 12.5h1M12 13.5h1M17 13.5h1M22 13.5h1M9 14.5h1M37 14.5h1M9 15.5h1M20 15.5h1M26 15.5h1M39 15.5h1M1 16.5h1M27 16.5h1M9 17.5h1M12 17.5h1M24 17.5h1M0 18.5h1M4 18.5h1M2 19.5h1M20 19.5h1M18 20.5h1M31 20.5h2M3 21.5h1M8 21.5h1M31 21.5h1M34 21.5h1M3 22.5h1M16 22.5h1M0 23.5h1M5 23.5h1M16 23.5h1M12 24.5h1M15 25.5h1M19 25.5h1M21 25.5h1M25 25.5h1M27 25.5h1M39 25.5h1M9 26.5h2M12 26.5h1M16 26.5h1M23 26.5h1M38 26.5h1M1 27.5h1M16 27.5h1M18 27.5h1M23 27.5h1M25 27.5h1M31 27.5h1M34 27.5h1M9 28.5h1M18 29.5h1M10 30.5h1M12 30.5h1M25 30.5h1M27 30.5h1M39 30.5h1M7 31.5h1M30 31.5h1M35 31.5h1M2 32.5h1M6 32.5h1M12 32.5h1M32 32.5h1M12 34.5h1M21 34.5h2M39 34.5h1M3 35.5h1M14 35.5h1M34 35.5h1M36 36.5h1M11 37.5h1M17 37.5h1M24 37.5h1M28 37.5h1M30 38.5h1M33 38.5h2M7 39.5h1M29 39.5h1M34 39.5h1M15 40.5h2M26 40.5h2M24 41.5h1M18 42.5h1M21 42.5h1M34 43.5h1M5 44.5h1M16 44.5h1M29 44.5h1M24 45.5h1M14 46.5h1M29 46.5h1M33 46.5h1M19 47.5h2M30 47.5h1"/><path stroke="#57cc7a" d="M6 0.5h1M10 0.5h1M17 0.5h1M34 0.5h1M38 0.5h1M23 1.5h1M26 1.5h1M34 1.5h1M0 2.5h1M7 2.5h1M19 2.5h1M21 2.5h1M29 2.5h1M34 2.5h1M37 2.5h1M0 3.5h1M4 3.5h1M16 3.5h2M31 3.5h1M34 3.5h1M4 4.5h1M14 4.5h1M17 4.5h1M22 4.5h2M33 4.5h1M38 4.5h1M3 5.5h1M7 5.5h1M20 5.5h1M34 5.5h1M3 6.5h1M5 6.5h1M7 6.5h1M14 6.5h1M24 6.5h1M5 7.5h1M9 7.5h1M13 7.5h1M7 8.5h1M15 8.5h1M20 8.5h1M21 9.5h1M7 10.5h1M35 10.5h2M1 11.5h1M13 11.5h1M16 11.5h1M32 11.5h1M2 12.5h1M6 12.5h2M10 12.5h1M36 12.5h1M14 13.5h1M27 13.5h1M31 13.5h1M12 14.5h1M15 14.5h1M17 14.5h1M23 14.5h1M32 14.5h1M34 14.5h1M14 15.5h1M19 15.5h1M25 15.5h1M3 16.5h1M9 16.5h1M15 16.5h2M24 16.5h1M4 17.5h1M17 17.5h1M19 17.5h2M6 18.5h2M9 18.5h1M18 18.5h1M21 18.5h1M24 18.5h1M34 18.5h1M38 18.5h1M5 19.5h1M34 19.5h1M16 20.5h2M27 20.5h1M30 20.5h1M9 21.5h1M27 21.5h1M33 21.5h1M1 22.5h1M12 22.5h1M20 22.5h1M28 22.5h2M36 22.5h2M17 23.5h1M30 23.5h1M35 23.5h1M31 24.5h1M1 25.5h1M12 25.5h1M34 25.5h1M37 25.5h1M8 26.5h1M15 26.5h1M22 26.5h1M13 27.5h1M38 27.5h1M20 28.5h1M26 28.5h1M29 28.5h1M12 29.5h1M23 29.5h1M26 29.5h1M3 30.5h1M5 30.5h1M8 30.5h1M17 30.5h1M26 30.5h1M3 31.5h1M31 31.5h1M34 31.5h1M17 32.5h1M21 32.5h1M34 32.5h1M12 33.5h1M30 33.5h1M0 34.5h1M6 34.5h1M12 35.5h1M17 35.5h1M25 35.5h2M7 36.5h1M25 36.5h1M9 37.5h1M7 38.5h1M12 38.5h1M16 38.5h1M23 38.5h2M26 38.5h1M39 38.5h1M12 39.5h1M22 39.5h1M24 39.5h1M23 40.5h1M1 41.5h1M11 41.5h2M25 41.5h1M16 42.5h1M33 42.5h1M14 43.5h1M21 43.5h1M24 43.5h1M29 43.5h1M12 44.5h1M33 44.5h1M35 44.5h1M37 44.5h1M1 45.5h1M9 45.5h1M22 45.5h1M31 45.5h1M33 45.5h1M35 45.5h1M5 46.5h1M11 46.5h1M37 46.5h1M31 47.5h2"/><path stroke="#81cc59" d="M16 0.5h1M37 0.5h1M18 1.5h1M27 1.5h1M32 2.5h1M36 4.5h1M1 5.5h1M5 5.5h2M12 6.5h1M25 6.5h1M31 6.5h1M33 6.5h1M3 7.5h1M8 7.5h1M9 8.5h1M34 8.5h1M36 8.5h1M23 9.5h1M31 9.5h1M5 10.5h1M16 10.5h1M5 11.5h1M22 11.5h1M17 12.5h1M7 13.5h1M13 14.5h1M16 14.5h1M24 14.5h1M33 14.5h1M13 15.5h1M28 15.5h1M33 15.5h1M38 15.5h1M8 16.5h1M29 16.5h1M31 16.5h2M34 16.5h1M36 16.5h1M39 16.5h1M17 18.5h1M23 18.5h1M0 19.5h1M17 19.5h1M23 19.5h1M29 19.5h1M32 19.5h1M4 20.5h1M32 21.5h1M37 21.5h1M23 22.5h1M10 23.5h1M32 23.5h1M7 24.5h1M37 24.5h2M20 25.5h1M36 25.5h1M1 26.5h1M6 26.5h1M28 26.5h1M12 27.5h1M1 28.5h1M8 28.5h1M11 28.5h1M38 28.5h1M8 29.5h1M11 29.5h1M31 29.5h1M32 30.5h1M2 31.5h1M19 32.5h1M25 32.5h1M39 32.5h1M25 33.5h1M38 33.5h1M13 34.5h1M23 34.5h1M26 34.5h1M33 34.5h1M36 34.5h1M9 35.5h1M20 35.5h1M16 36.5h1M30 36.5h1M2 37.5h1M12 37.5h1M20 37.5h1M29 37.5h1M25 38.5h1M21 39.5h1M28 39.5h1M7 40.5h1M21 40.5h1M30 40.5h1M37 40.5h1M13 41.5h1M27 41.5h1M36 41.5h1M17 42.5h1M12 43.5h1M33 43.5h1M7 44.5h1M34 44.5h1M23 45.5h1M28 45.5h1M15 46.5h1M31 46.5h1M10 47.5h1M17 47.5h1M38 47.5h1"/><path stroke="#abc739" d="M1 0.5h1M28 0.5h2M1 1.5h1M12 1.5h1M21 1.5h1M37 1.5h1M4 2.5h1M9 3.5h1M18 3.5h1M23 3.5h1M27 3.5h1M29 3.5h1M9 4.5h1M34 4.5h1M11 5.5h1M23 6.5h1M36 6.5h1M15 7.5h1M28 7.5h1M32 7.5h1M23 8.5h2M4 9.5h1M10 9.5h1M1 10.5h1M9 10.5h1M30 11.5h1M34 11.5h1M30 12.5h2M28 13.5h1M33 13.5h1M19 14.5h1M21 15.5h1M33 16.5h1M1 17.5h1M29 17.5h1M33 17.5h1M12 18.5h1M27 18.5h1M7 19.5h1M18 19.5h1M22 19.5h1M25 19.5h1M31 19.5h1M33 19.5h1M5 20.5h1M23 20.5h1M12 21.5h1M2 22.5h1M18 22.5h1M21 23.5h1M37 23.5h1M16 24.5h1M22 24.5h1M30 24.5h1M8 25.5h1M23 25.5h1M29 25.5h1M0 26.5h1M17 26.5h1M3 27.5h1M9 27.5h1M28 27.5h1M36 27.5h1M19 28.5h1M31 28.5h2M34 28.5h1M5 29.5h1M7 29.5h1M1 30.5h1M23 30.5h1M31 30.5h1M17 31.5h1M21 31.5h1M1 32.5h1M23 32.5h1M31 32.5h1M33 32.5h1M13 33.5h1M24 33.5h1M36 33.5h1M20 34.5h1M29 34.5h1M1 35.5h1M9 36.5h1M11 36.5h1M18 36.5h2M23 36.5h1M32 36.5h1M13 37.5h1M34 37.5h1M36 37.5h1M6 38.5h1M10 38.5h1M15 38.5h1M32 38.5h1M37 38.5h1M4 39.5h1M25 39.5h1M33 39.5h1M12 40.5h1M38 41.5h1M4 42.5h1M29 42.5h2M38 42.5h1M2 43.5h2M17 43.5h1M23 43.5h1M38 43.5h1M8 46.5h1M17 46.5h1M28 46.5h1M30 46.5h1M5 47.5h1M15 47.5h1"/><path stroke="#f0ba36" d="M4 0.5h1M7 0.5h1M25 0.5h1M12 4.5h1M8 5.5h1M31 5.5h1M37 5.5h1M17 6.5h1M17 7.5h1M27 7.5h1M22 8.5h1M9 9.5h1M12 10.5h1M20 10.5h1M2 11.5h1M23 11.5h1M35 11.5h1M12 12.5h1M27 12.5h1M38 12.5h1M23 13.5h1M25 14.5h1M1 15.5h1M0 16.5h1M38 16.5h1M38 17.5h1M16 18.5h1M38 19.5h1M1 20.5h1M9 20.5h1M12 20.5h1M16 25.5h1M25 26.5h1M34 26.5h1M18 28.5h1M13 29.5h1M12 31.5h1M29 31.5h1M32 33.5h1M6 35.5h1M23 35.5h1M30 35.5h1M0 36.5h2M3 36.5h1M3 37.5h1M13 38.5h1M28 38.5h1M39 39.5h1M8 40.5h1M29 40.5h1M23 42.5h1M3 44.5h1M7 45.5h1M23 46.5h2M7 47.5h1M9 47.5h1M16 47.5h1M33 47.5h1M35 47.5h1"/><path stroke="#f7f51b" d="M14 0.5h1M28 5.5h1M12 16.5h1M0 37.5h1M24 42.5h1"/></svg>
<svg x="274.2" y="384.4" width="45.8" height="232.6" viewBox="0 0 8 48" preserveAspectRatio="none" shape-rendering="crispEdges"><path stroke="#463cde" d="M3 12.5h1M3 30.5h1M3 31.5h1M3 33.5h1"/><path stroke="#4758f8" d="M3 3.5h1M1 4.5h1M3 5.5h1M3 7.5h1M1 8.5h1M5 9.5h1M3 13.5h1M5 17.5h1M6 18.5h1M3 24.5h1M3 27.5h1M5 27.5h1M3 28.5h1M3 29.5h1M6 30.5h1M1 32.5h1M6 34.5h1M6 35.5h1M3 40.5h1M3 42.5h1M3 43.5h1M3 44.5h1M6 45.5h1"/><path stroke="#327cfc" d="M5 1.5h2M3 2.5h1M5 3.5h1M0 4.5h1M3 4.5h1M6 4.5h1M3 6.5h1M5 6.5h2M7 7.5h1M3 8.5h1M4 9.5h1M1 11.5h1M6 11.5h1M5 12.5h1M4 13.5h1M1 14.5h1M1 15.5h1M1 16.5h1M1 17.5h1M1 19.5h1M3 19.5h1M5 19.5h1M3 20.5h1M6 20.5h1M1 21.5h3M3 22.5h1M5 22.5h2M1 23.5h1M1 24.5h2M5 24.5h1M3 25.5h1M1 26.5h1M3 26.5h1M7 29.5h1M0 33.5h1M5 34.5h1M7 34.5h1M3 35.5h1M5 35.5h1M7 35.5h1M3 36.5h1M1 37.5h1M3 37.5h1M3 38.5h1M6 38.5h1M1 39.5h1M4 40.5h3M1 41.5h1M3 41.5h1M6 41.5h1M2 42.5h1M6 42.5h1M7 44.5h1M1 45.5h1M3 46.5h1M6 46.5h1"/><path stroke="#259be8" d="M1 0.5h1M3 0.5h1M1 2.5h1M7 2.5h1M6 3.5h1M7 4.5h1M1 5.5h1M5 5.5h1M2 6.5h1M1 7.5h1M2 8.5h1M0 10.5h1M3 11.5h1M6 12.5h1M0 13.5h1M3 15.5h1M3 17.5h1M2 18.5h2M5 20.5h1M6 21.5h1M3 23.5h1M0 26.5h1M1 27.5h1M6 27.5h1M6 28.5h2M0 29.5h1M5 29.5h1M1 30.5h1M0 31.5h2M6 31.5h1M4 33.5h1M6 33.5h1M6 37.5h1M2 39.5h2M1 40.5h1M1 43.5h1M5 43.5h1M3 45.5h1"/><path stroke="#12b1d6" d="M0 0.5h1M2 1.5h1M4 2.5h1M6 2.5h1M0 3.5h3M7 3.5h1M4 4.5h1M0 5.5h1M2 5.5h1M6 5.5h1M0 6.5h1M7 6.5h1M5 7.5h2M1 10.5h1M2 11.5h1M4 11.5h1M0 12.5h1M4 12.5h1M2 13.5h1M7 13.5h1M0 14.5h1M5 14.5h2M6 15.5h1M0 16.5h1M2 16.5h1M4 17.5h1M6 17.5h1M1 18.5h1M0 19.5h1M6 19.5h1M0 20.5h3M4 20.5h1M0 21.5h1M4 22.5h1M2 23.5h1M4 23.5h2M4 24.5h1M0 25.5h3M7 25.5h1M7 26.5h1M1 28.5h2M4 28.5h2M2 29.5h1M2 30.5h1M4 30.5h1M4 31.5h2M6 32.5h1M1 33.5h1M1 34.5h1M4 34.5h1M0 35.5h1M2 35.5h1M4 35.5h1M1 36.5h1M2 37.5h1M5 37.5h1M4 38.5h2M4 39.5h1M7 39.5h1M0 40.5h1M7 40.5h1M5 41.5h1M7 41.5h1M4 42.5h2M7 43.5h1M2 44.5h1M4 44.5h2M0 45.5h1M2 45.5h1M1 46.5h1M5 46.5h1M7 46.5h1M2 47.5h1M6 47.5h1"/><path stroke="#0bbdbd" d="M2 2.5h1M0 9.5h1M0 11.5h1M2 12.5h1M2 15.5h1M7 16.5h1M7 17.5h1M7 21.5h1M7 22.5h1M7 23.5h1M7 24.5h1M7 31.5h1M2 32.5h1M7 32.5h1M7 45.5h1M4 47.5h1M7 47.5h1"/><path stroke="#2cc4a7" d="M2 0.5h1M4 0.5h4M0 1.5h2M3 1.5h2M7 1.5h1M0 2.5h1M5 2.5h1M4 3.5h1M2 4.5h1M5 4.5h1M4 5.5h1M7 5.5h1M1 6.5h1M4 6.5h1M0 7.5h1M2 7.5h1M4 7.5h1M0 8.5h1M4 8.5h4M1 9.5h3M6 9.5h2M2 10.5h6M5 11.5h1M7 11.5h1M1 12.5h1M7 12.5h1M1 13.5h1M5 13.5h2M2 14.5h3M7 14.5h1M0 15.5h1M4 15.5h2M7 15.5h1M3 16.5h4M0 17.5h1M2 17.5h1M0 18.5h1M4 18.5h2M7 18.5h1M2 19.5h1M4 19.5h1M7 19.5h1M7 20.5h1M4 21.5h2M0 22.5h3M0 23.5h1M6 23.5h1M0 24.5h1M6 24.5h1M4 25.5h3M2 26.5h1M4 26.5h3M0 27.5h1M2 27.5h1M4 27.5h1M7 27.5h1M0 28.5h1M1 29.5h1M4 29.5h1M6 29.5h1M0 30.5h1M5 30.5h1M7 30.5h1M2 31.5h1M0 32.5h1M3 32.5h3M2 33.5h1M5 33.5h1M7 33.5h1M0 34.5h1M2 34.5h2M1 35.5h1M0 36.5h1M2 36.5h1M4 36.5h4M0 37.5h1M4 37.5h1M7 37.5h1M0 38.5h3M7 38.5h1M0 39.5h1M5 39.5h2M2 40.5h1M0 41.5h1M2 41.5h1M4 41.5h1M0 42.5h2M7 42.5h1M0 43.5h1M2 43.5h1M4 43.5h1M6 43.5h1M0 44.5h2M6 44.5h1M4 45.5h2M0 46.5h1M2 46.5h1M4 46.5h1M0 47.5h2M3 47.5h1M5 47.5h1"/></svg>
<svg x="27.1" y="384.4" width="23" height="232.6" viewBox="0 0 2 48" preserveAspectRatio="none" shape-rendering="crispEdges"><path stroke="#4332cb" d="M1 33.5h1"/><path stroke="#4537d5" d="M0 34.5h1"/><path stroke="#327cfc" d="M1 14.5h1"/><path stroke="#2f81fa" d="M1 22.5h1M0 33.5h1M1 44.5h1"/><path stroke="#2b91ef" d="M0 37.5h1"/><path stroke="#2797eb" d="M1 23.5h1M0 30.5h1"/><path stroke="#20a5e3" d="M1 9.5h1M0 12.5h1M0 22.5h1M0 24.5h2M0 27.5h1M0 29.5h1M0 36.5h1M1 38.5h1"/><path stroke="#12b1d6" d="M0 44.5h1"/><path stroke="#08b5d0" d="M0 14.5h1"/><path stroke="#0bbdbd" d="M0 20.5h1M0 26.5h1"/><path stroke="#19bfb6" d="M0 1.5h1M0 8.5h1M0 41.5h1M1 42.5h1M1 46.5h1"/><path stroke="#37c897" d="M1 43.5h1"/><path stroke="#3fca8e" d="M1 3.5h1M1 37.5h1"/><path stroke="#4acb84" d="M1 29.5h1"/><path stroke="#64cd6f" d="M1 16.5h1"/><path stroke="#72cd64" d="M0 42.5h1M1 47.5h1"/><path stroke="#8fcb4e" d="M0 13.5h1M1 19.5h1M1 20.5h1M0 21.5h1M0 23.5h1M0 25.5h1"/><path stroke="#9dc943" d="M0 0.5h1M1 1.5h1M0 11.5h1M1 15.5h1M1 17.5h1"/><path stroke="#c5c22a" d="M1 8.5h1M1 28.5h1M0 40.5h1"/><path stroke="#e6bb2d" d="M0 15.5h1"/><path stroke="#f0ba36" d="M0 2.5h1M0 3.5h1M0 7.5h1M0 9.5h1M1 11.5h1M1 13.5h1M0 18.5h1M0 19.5h1M1 27.5h1M0 31.5h1M0 32.5h2M1 34.5h1M1 36.5h1M0 38.5h1M0 46.5h1M0 47.5h1"/><path stroke="#f8ba3d" d="M1 4.5h1"/><path stroke="#febe3c" d="M0 4.5h1"/><path stroke="#fec338" d="M1 7.5h1M1 21.5h1M0 35.5h1M1 39.5h1M1 40.5h1M1 41.5h1"/><path stroke="#fec934" d="M1 0.5h1M1 12.5h1M0 17.5h1M1 18.5h1M1 30.5h1M0 39.5h1M0 43.5h1M1 45.5h1"/><path stroke="#fccf30" d="M1 10.5h1"/><path stroke="#fad62d" d="M0 6.5h1M0 16.5h1M0 28.5h1"/><path stroke="#f7dc2a" d="M0 10.5h1"/><path stroke="#f5e327" d="M1 35.5h1"/><path stroke="#f5e924" d="M1 2.5h1M1 31.5h1"/><path stroke="#f6ef20" d="M0 5.5h1M1 25.5h1M1 26.5h1M0 45.5h1"/><path stroke="#f7f51b" d="M1 5.5h1M1 6.5h1"/></svg>
<svg x="438" y="383.9" width="259.7" height="232.8" viewBox="0 0 48 48" preserveAspectRatio="none" shape-rendering="crispEdges"><path stroke="#463cde" d="M29 2.5h1M26 8.5h1M27 16.5h1M32 22.5h1M26 23.5h1M46 24.5h1M29 25.5h1M33 26.5h1M27 40.5h1M44 43.5h1M27 44.5h1M37 46.5h1"/><path stroke="#4852f4" d="M45 1.5h1M47 1.5h1M39 11.5h1M26 12.5h1M42 12.5h1M26 13.5h1M47 13.5h1M40 14.5h1M42 14.5h1M44 15.5h1M46 17.5h1M39 19.5h1M38 22.5h1M33 28.5h1M33 32.5h1M39 35.5h1M41 35.5h1M33 36.5h1M29 37.5h1M45 38.5h1M31 44.5h1M37 45.5h1M33 47.5h1"/><path stroke="#3e6fff" d="M41 0.5h1M41 1.5h1M39 2.5h1M30 3.5h1M38 3.5h1M30 4.5h1M38 4.5h1M27 5.5h1M30 5.5h1M32 5.5h1M46 5.5h1M29 6.5h1M27 7.5h1M43 7.5h1M45 7.5h1M25 8.5h1M34 8.5h1M38 8.5h1M43 8.5h2M29 9.5h1M39 10.5h1M25 12.5h1M37 12.5h1M28 13.5h1M30 13.5h1M34 13.5h1M38 14.5h1M27 15.5h1M29 15.5h1M33 15.5h1M34 16.5h1M39 16.5h1M41 16.5h1M26 17.5h2M29 17.5h1M29 18.5h1M35 18.5h1M37 18.5h1M45 18.5h1M25 19.5h2M30 19.5h1M33 19.5h1M35 19.5h1M32 20.5h1M47 21.5h1M32 24.5h1M45 24.5h1M40 25.5h2M28 26.5h1M32 27.5h1M35 27.5h1M36 28.5h1M25 29.5h1M26 30.5h1M32 31.5h1M44 31.5h1M30 32.5h1M34 34.5h1M25 35.5h1M29 35.5h1M35 35.5h1M44 35.5h1M34 36.5h1M35 38.5h1M28 39.5h1M33 41.5h1M41 41.5h1M25 43.5h1M32 43.5h1M38 43.5h1M41 43.5h1M47 43.5h1M36 45.5h1M24 46.5h1M29 46.5h1M31 46.5h1M46 46.5h1M31 47.5h1"/><path stroke="#2e87f7" d="M26 0.5h1M31 0.5h1M40 0.5h1M45 0.5h1M33 1.5h1M46 1.5h1M24 2.5h1M43 2.5h1M33 3.5h1M28 4.5h1M43 4.5h1M31 5.5h1M40 5.5h1M24 6.5h1M25 7.5h1M40 7.5h1M31 8.5h1M26 9.5h1M30 9.5h1M41 9.5h1M24 10.5h1M28 10.5h1M33 10.5h1M37 10.5h1M47 10.5h1M28 11.5h1M38 11.5h1M35 12.5h1M38 12.5h1M29 13.5h1M31 13.5h1M36 13.5h1M25 14.5h1M27 14.5h2M25 15.5h1M31 15.5h1M36 15.5h1M28 16.5h1M25 17.5h1M25 18.5h1M40 19.5h1M43 19.5h1M27 20.5h1M40 21.5h1M44 21.5h1M44 22.5h2M27 24.5h1M30 24.5h1M33 24.5h1M47 24.5h1M42 25.5h1M24 26.5h1M38 26.5h1M44 26.5h1M26 27.5h1M32 28.5h1M44 28.5h1M24 29.5h1M30 29.5h1M44 29.5h2M40 30.5h1M45 30.5h1M47 30.5h1M32 32.5h1M41 32.5h1M45 32.5h1M38 33.5h1M41 33.5h1M47 33.5h1M36 34.5h1M40 34.5h1M47 34.5h1M28 35.5h1M24 36.5h2M29 36.5h3M42 37.5h1M24 38.5h1M37 38.5h1M39 38.5h1M44 38.5h1M24 39.5h1M38 39.5h1M25 40.5h1M39 40.5h2M32 41.5h1M37 41.5h2M42 41.5h1M31 42.5h1M38 42.5h1M41 42.5h1M27 43.5h1M29 43.5h1M36 43.5h1M32 44.5h1M37 44.5h1M42 45.5h1M47 45.5h1M38 46.5h1M45 46.5h1M47 46.5h1M29 47.5h1"/><path stroke="#259be8" d="M35 0.5h1M39 0.5h1M43 0.5h2M46 0.5h2M25 1.5h1M27 1.5h1M38 1.5h1M40 1.5h1M34 2.5h1M36 2.5h1M45 2.5h1M24 3.5h1M26 3.5h1M29 3.5h1M34 3.5h1M24 4.5h1M32 4.5h1M35 5.5h1M42 5.5h1M45 5.5h1M28 6.5h1M31 6.5h1M37 6.5h1M43 6.5h1M45 6.5h1M26 7.5h1M30 7.5h1M37 7.5h1M35 8.5h1M40 8.5h1M42 8.5h1M46 8.5h1M40 9.5h1M31 10.5h2M41 10.5h1M25 11.5h1M27 11.5h1M40 11.5h1M44 11.5h1M35 13.5h1M44 13.5h2M26 14.5h1M32 14.5h3M45 14.5h1M47 14.5h1M40 15.5h1M42 15.5h1M31 16.5h1M36 16.5h1M40 16.5h1M42 16.5h1M44 16.5h3M31 17.5h1M39 17.5h1M41 17.5h1M32 18.5h2M41 18.5h1M34 19.5h1M38 19.5h1M42 19.5h1M46 19.5h2M25 20.5h2M28 20.5h2M31 20.5h1M38 20.5h1M26 21.5h1M35 21.5h1M39 21.5h1M24 22.5h1M26 22.5h1M34 23.5h1M36 23.5h1M38 23.5h1M41 23.5h1M43 23.5h1M45 23.5h1M47 23.5h1M25 24.5h1M28 24.5h1M37 24.5h1M41 24.5h1M25 25.5h1M27 25.5h1M32 25.5h1M39 25.5h1M41 26.5h2M45 27.5h1M24 28.5h1M28 28.5h1M37 28.5h1M39 28.5h3M47 28.5h1M26 29.5h1M40 29.5h1M25 30.5h1M27 30.5h2M31 30.5h1M35 30.5h1M38 30.5h1M43 30.5h1M46 30.5h1M24 31.5h2M28 31.5h1M34 31.5h1M41 31.5h1M44 32.5h1M42 33.5h1M46 33.5h1M25 34.5h1M33 34.5h1M38 34.5h1M30 35.5h1M33 35.5h2M40 35.5h1M45 35.5h2M35 36.5h1M47 36.5h1M24 37.5h1M28 37.5h1M31 37.5h1M33 37.5h1M39 37.5h1M27 38.5h1M38 38.5h1M40 38.5h1M39 39.5h1M43 39.5h1M45 39.5h2M47 40.5h1M27 41.5h1M36 41.5h1M40 42.5h1M43 42.5h1M45 42.5h1M26 43.5h1M24 44.5h1M26 44.5h1M29 44.5h2M33 44.5h1M40 44.5h2M45 44.5h1M24 45.5h1M33 45.5h1M38 45.5h1M30 46.5h1M35 46.5h1M24 47.5h1M32 47.5h1M39 47.5h1M43 47.5h1"/><path stroke="#1ca9df" d="M6 0.5h3M13 0.5h1M18 0.5h2M33 0.5h1M42 0.5h1M13 1.5h1M22 1.5h1M28 1.5h2M34 1.5h1M39 1.5h1M4 2.5h1M7 2.5h1M11 2.5h1M13 2.5h1M27 2.5h1M33 2.5h1M38 2.5h1M41 2.5h1M0 3.5h1M5 3.5h1M14 3.5h1M40 3.5h1M44 3.5h1M2 4.5h1M6 4.5h1M8 4.5h2M17 4.5h1M33 4.5h2M10 5.5h2M14 5.5h1M24 5.5h1M26 5.5h1M29 5.5h1M34 5.5h1M37 5.5h2M43 5.5h1M47 5.5h1M2 6.5h1M4 6.5h1M7 6.5h1M10 6.5h2M14 6.5h1M33 6.5h1M42 6.5h1M44 6.5h1M10 7.5h1M15 7.5h1M19 7.5h1M22 7.5h1M31 7.5h1M33 7.5h1M42 7.5h1M16 8.5h2M24 8.5h1M27 8.5h1M29 8.5h1M36 8.5h1M47 8.5h1M0 9.5h1M20 9.5h1M23 9.5h1M28 9.5h1M31 9.5h1M34 9.5h1M39 9.5h1M42 9.5h2M1 10.5h1M3 10.5h2M7 10.5h1M27 10.5h1M29 10.5h2M36 10.5h1M38 10.5h1M42 10.5h1M13 11.5h1M22 11.5h1M30 11.5h1M32 11.5h1M3 12.5h2M17 12.5h1M28 12.5h3M45 12.5h1M4 13.5h1M8 13.5h1M10 13.5h1M38 13.5h1M42 13.5h1M7 14.5h2M19 14.5h1M24 14.5h1M29 14.5h1M31 14.5h1M37 14.5h1M4 15.5h1M37 15.5h1M6 16.5h1M11 16.5h1M15 16.5h2M21 16.5h1M25 16.5h1M33 16.5h1M38 16.5h1M2 17.5h1M5 17.5h1M8 17.5h1M24 17.5h1M34 17.5h2M37 17.5h1M43 17.5h1M47 17.5h1M12 18.5h1M27 18.5h1M38 18.5h3M0 19.5h2M3 19.5h1M5 19.5h1M8 19.5h1M18 19.5h1M21 19.5h1M24 19.5h1M1 20.5h1M5 20.5h1M9 20.5h1M16 20.5h1M18 20.5h1M30 20.5h1M4 21.5h1M10 21.5h2M24 21.5h1M27 21.5h1M31 21.5h1M4 22.5h1M6 22.5h1M11 22.5h1M27 22.5h1M46 22.5h1M5 23.5h1M14 23.5h1M22 23.5h1M8 24.5h1M24 24.5h1M26 24.5h1M36 24.5h1M38 24.5h2M44 24.5h1M20 25.5h1M30 25.5h1M35 25.5h1M44 25.5h1M46 25.5h1M8 26.5h2M16 26.5h1M26 26.5h1M30 26.5h1M39 26.5h1M1 27.5h1M5 27.5h1M9 27.5h1M29 27.5h1M36 27.5h2M39 27.5h1M44 27.5h1M47 27.5h1M7 28.5h1M11 28.5h1M18 28.5h1M27 28.5h1M30 28.5h1M7 29.5h1M28 29.5h1M35 29.5h1M38 29.5h1M43 29.5h1M47 29.5h1M1 30.5h1M6 30.5h1M8 30.5h1M22 30.5h1M24 30.5h1M29 30.5h2M41 30.5h1M7 31.5h3M17 31.5h1M19 31.5h1M23 31.5h1M26 31.5h2M29 31.5h1M37 31.5h1M43 31.5h1M4 32.5h1M12 32.5h1M14 32.5h1M23 32.5h1M31 32.5h1M36 32.5h1M38 32.5h1M40 32.5h1M1 33.5h1M4 33.5h1M9 33.5h1M23 33.5h1M29 33.5h1M31 33.5h1M43 33.5h1M11 34.5h5M24 34.5h1M27 34.5h2M31 34.5h1M41 34.5h2M44 34.5h1M11 35.5h2M19 35.5h1M22 35.5h1M37 35.5h1M43 35.5h1M6 36.5h1M11 36.5h3M16 36.5h1M19 36.5h1M32 36.5h1M41 36.5h1M45 36.5h1M0 37.5h1M4 37.5h1M7 37.5h2M14 37.5h2M35 37.5h1M40 37.5h1M2 38.5h2M12 38.5h1M15 38.5h1M22 38.5h2M31 38.5h1M43 38.5h1M46 38.5h1M6 39.5h1M14 39.5h1M16 39.5h1M25 39.5h1M27 39.5h1M34 39.5h3M40 39.5h1M3 40.5h1M7 40.5h1M17 40.5h1M32 40.5h1M34 40.5h2M38 40.5h1M43 40.5h3M9 41.5h1M28 41.5h1M34 41.5h1M44 41.5h3M2 42.5h1M4 42.5h1M10 42.5h3M24 42.5h1M29 42.5h1M37 42.5h1M46 42.5h2M0 43.5h1M11 43.5h2M14 43.5h1M17 43.5h1M35 43.5h1M0 44.5h1M3 44.5h1M5 44.5h1M9 44.5h2M12 44.5h1M20 44.5h1M25 44.5h1M38 44.5h1M47 44.5h1M12 45.5h1M21 45.5h1M23 45.5h1M25 45.5h1M27 45.5h1M40 45.5h2M1 46.5h1M26 46.5h1M34 46.5h1M44 46.5h1M4 47.5h1M17 47.5h1M26 47.5h1M37 47.5h1M41 47.5h1"/><path stroke="#18addb" d="M1 0.5h1M4 0.5h1M9 0.5h2M20 0.5h1M24 0.5h2M27 0.5h1M29 0.5h2M32 0.5h1M36 0.5h2M5 1.5h2M17 1.5h1M20 1.5h1M26 1.5h1M31 1.5h2M35 1.5h2M42 1.5h3M0 2.5h2M5 2.5h1M10 2.5h1M12 2.5h1M14 2.5h1M22 2.5h2M25 2.5h2M30 2.5h2M35 2.5h1M37 2.5h1M40 2.5h1M44 2.5h1M47 2.5h1M6 3.5h1M8 3.5h1M10 3.5h3M18 3.5h1M22 3.5h2M25 3.5h1M31 3.5h2M35 3.5h2M39 3.5h1M41 3.5h1M43 3.5h1M46 3.5h2M1 4.5h1M3 4.5h2M11 4.5h2M14 4.5h2M18 4.5h3M25 4.5h2M31 4.5h1M35 4.5h3M39 4.5h1M42 4.5h1M44 4.5h1M0 5.5h1M5 5.5h5M12 5.5h1M16 5.5h1M25 5.5h1M33 5.5h1M39 5.5h1M41 5.5h1M44 5.5h1M12 6.5h2M15 6.5h1M18 6.5h1M21 6.5h1M30 6.5h1M32 6.5h1M34 6.5h1M38 6.5h2M41 6.5h1M46 6.5h2M0 7.5h1M3 7.5h2M6 7.5h1M9 7.5h1M17 7.5h1M24 7.5h1M28 7.5h2M38 7.5h2M41 7.5h1M44 7.5h1M46 7.5h2M5 8.5h3M9 8.5h1M11 8.5h2M21 8.5h1M23 8.5h1M30 8.5h1M37 8.5h1M39 8.5h1M41 8.5h1M3 9.5h1M7 9.5h1M13 9.5h2M18 9.5h1M22 9.5h1M24 9.5h2M32 9.5h1M35 9.5h4M46 9.5h2M5 10.5h2M15 10.5h1M18 10.5h5M26 10.5h1M34 10.5h1M40 10.5h1M43 10.5h4M0 11.5h1M3 11.5h1M5 11.5h1M9 11.5h2M12 11.5h1M16 11.5h1M18 11.5h1M21 11.5h1M24 11.5h1M29 11.5h1M31 11.5h1M34 11.5h2M43 11.5h1M45 11.5h2M0 12.5h2M6 12.5h2M11 12.5h4M20 12.5h1M22 12.5h1M27 12.5h1M31 12.5h2M34 12.5h1M36 12.5h1M39 12.5h1M41 12.5h1M46 12.5h2M1 13.5h1M6 13.5h1M16 13.5h1M19 13.5h2M22 13.5h1M24 13.5h2M27 13.5h1M32 13.5h2M37 13.5h1M39 13.5h2M46 13.5h1M0 14.5h2M4 14.5h3M10 14.5h1M12 14.5h1M17 14.5h2M30 14.5h1M36 14.5h1M41 14.5h1M44 14.5h1M46 14.5h1M2 15.5h1M5 15.5h2M8 15.5h2M14 15.5h1M16 15.5h1M18 15.5h2M21 15.5h2M30 15.5h1M32 15.5h1M35 15.5h1M38 15.5h2M41 15.5h1M43 15.5h1M45 15.5h2M8 16.5h1M14 16.5h1M17 16.5h2M23 16.5h2M29 16.5h2M32 16.5h1M35 16.5h1M37 16.5h1M47 16.5h1M9 17.5h3M15 17.5h4M22 17.5h2M28 17.5h1M30 17.5h1M33 17.5h1M40 17.5h1M42 17.5h1M44 17.5h1M2 18.5h2M6 18.5h1M9 18.5h1M14 18.5h1M21 18.5h1M28 18.5h1M30 18.5h1M34 18.5h1M44 18.5h1M46 18.5h1M2 19.5h1M10 19.5h1M12 19.5h1M17 19.5h1M23 19.5h1M28 19.5h2M32 19.5h1M41 19.5h1M44 19.5h2M6 20.5h1M10 20.5h1M15 20.5h1M17 20.5h1M21 20.5h2M24 20.5h1M35 20.5h1M37 20.5h1M39 20.5h6M1 21.5h1M5 21.5h1M7 21.5h2M14 21.5h1M18 21.5h1M29 21.5h2M32 21.5h3M37 21.5h2M42 21.5h1M45 21.5h2M0 22.5h1M2 22.5h1M16 22.5h3M22 22.5h2M29 22.5h1M31 22.5h1M33 22.5h1M36 22.5h2M39 22.5h5M47 22.5h1M3 23.5h2M9 23.5h1M20 23.5h1M27 23.5h7M35 23.5h1M39 23.5h2M44 23.5h1M46 23.5h1M0 24.5h1M3 24.5h5M9 24.5h1M11 24.5h2M14 24.5h1M16 24.5h1M18 24.5h1M20 24.5h1M29 24.5h1M31 24.5h1M34 24.5h2M40 24.5h1M42 24.5h2M5 25.5h3M11 25.5h1M16 25.5h1M19 25.5h1M23 25.5h2M26 25.5h1M28 25.5h1M31 25.5h1M33 25.5h2M37 25.5h2M45 25.5h1M3 26.5h2M7 26.5h1M13 26.5h3M18 26.5h1M20 26.5h1M32 26.5h1M34 26.5h1M36 26.5h2M43 26.5h1M45 26.5h1M47 26.5h1M3 27.5h1M8 27.5h1M14 27.5h1M16 27.5h4M21 27.5h5M27 27.5h2M30 27.5h2M33 27.5h1M41 27.5h3M2 28.5h1M5 28.5h1M9 28.5h1M12 28.5h2M15 28.5h1M23 28.5h1M25 28.5h1M29 28.5h1M31 28.5h1M34 28.5h2M42 28.5h2M46 28.5h1M6 29.5h1M8 29.5h2M11 29.5h1M17 29.5h2M22 29.5h2M27 29.5h1M29 29.5h1M31 29.5h1M34 29.5h1M39 29.5h1M41 29.5h2M46 29.5h1M0 30.5h1M3 30.5h1M5 30.5h1M12 30.5h4M18 30.5h1M21 30.5h1M32 30.5h3M42 30.5h1M44 30.5h1M1 31.5h1M12 31.5h1M14 31.5h3M18 31.5h1M20 31.5h1M31 31.5h1M33 31.5h1M35 31.5h2M42 31.5h1M45 31.5h3M6 32.5h1M8 32.5h1M13 32.5h1M15 32.5h1M17 32.5h2M20 32.5h1M22 32.5h1M24 32.5h1M26 32.5h1M28 32.5h2M34 32.5h1M42 32.5h2M46 32.5h1M6 33.5h1M10 33.5h1M13 33.5h3M17 33.5h1M19 33.5h1M21 33.5h1M24 33.5h1M26 33.5h1M28 33.5h1M30 33.5h1M32 33.5h3M44 33.5h1M5 34.5h3M17 34.5h3M23 34.5h1M26 34.5h1M30 34.5h1M32 34.5h1M35 34.5h1M37 34.5h1M43 34.5h1M45 34.5h2M2 35.5h2M7 35.5h3M14 35.5h1M18 35.5h1M20 35.5h2M26 35.5h1M31 35.5h2M38 35.5h1M42 35.5h1M0 36.5h1M5 36.5h1M14 36.5h2M17 36.5h1M20 36.5h1M22 36.5h1M26 36.5h3M36 36.5h1M39 36.5h2M43 36.5h1M46 36.5h1M2 37.5h1M11 37.5h1M13 37.5h1M18 37.5h1M21 37.5h3M26 37.5h2M30 37.5h1M32 37.5h1M34 37.5h1M36 37.5h3M41 37.5h1M43 37.5h5M5 38.5h2M8 38.5h1M11 38.5h1M13 38.5h1M16 38.5h1M19 38.5h1M21 38.5h1M25 38.5h1M29 38.5h1M33 38.5h1M36 38.5h1M41 38.5h2M47 38.5h1M0 39.5h1M4 39.5h2M7 39.5h2M10 39.5h3M15 39.5h1M26 39.5h1M29 39.5h3M37 39.5h1M44 39.5h1M1 40.5h1M4 40.5h3M10 40.5h1M12 40.5h1M14 40.5h1M18 40.5h1M24 40.5h1M28 40.5h2M31 40.5h1M33 40.5h1M36 40.5h2M41 40.5h2M46 40.5h1M5 41.5h1M7 41.5h2M10 41.5h1M16 41.5h1M18 41.5h2M21 41.5h1M24 41.5h1M26 41.5h1M29 41.5h3M40 41.5h1M43 41.5h1M47 41.5h1M0 42.5h1M5 42.5h1M7 42.5h2M15 42.5h1M17 42.5h1M26 42.5h3M33 42.5h2M36 42.5h1M39 42.5h1M42 42.5h1M44 42.5h1M2 43.5h1M4 43.5h1M8 43.5h1M16 43.5h1M19 43.5h1M23 43.5h2M30 43.5h2M34 43.5h1M37 43.5h1M40 43.5h1M6 44.5h1M8 44.5h1M13 44.5h2M22 44.5h2M35 44.5h2M39 44.5h1M4 45.5h2M17 45.5h3M26 45.5h1M28 45.5h4M34 45.5h2M43 45.5h4M0 46.5h1M2 46.5h1M5 46.5h2M13 46.5h2M18 46.5h1M28 46.5h1M32 46.5h2M36 46.5h1M42 46.5h2M0 47.5h1M3 47.5h1M5 47.5h1M10 47.5h1M18 47.5h1M25 47.5h1M27 47.5h1M30 47.5h1M35 47.5h2M38 47.5h1M40 47.5h1M44 47.5h2"/><path stroke="#12b1d6" d="M3 0.5h1M14 0.5h1M17 0.5h1M28 0.5h1M34 0.5h1M38 0.5h1M2 1.5h3M7 1.5h1M24 1.5h1M30 1.5h1M37 1.5h1M15 2.5h1M28 2.5h1M32 2.5h1M42 2.5h1M46 2.5h1M3 3.5h1M13 3.5h1M17 3.5h1M27 3.5h2M37 3.5h1M42 3.5h1M45 3.5h1M27 4.5h1M29 4.5h1M40 4.5h2M45 4.5h3M3 5.5h2M18 5.5h1M21 5.5h3M28 5.5h1M36 5.5h1M0 6.5h1M6 6.5h1M8 6.5h1M16 6.5h1M25 6.5h3M35 6.5h2M40 6.5h1M1 7.5h2M14 7.5h1M32 7.5h1M34 7.5h3M0 8.5h2M4 8.5h1M18 8.5h1M28 8.5h1M32 8.5h2M45 8.5h1M1 9.5h2M4 9.5h1M12 9.5h1M27 9.5h1M33 9.5h1M44 9.5h2M10 10.5h1M12 10.5h1M14 10.5h1M25 10.5h1M35 10.5h1M6 11.5h2M14 11.5h1M17 11.5h1M23 11.5h1M26 11.5h1M33 11.5h1M36 11.5h2M41 11.5h2M47 11.5h1M8 12.5h1M18 12.5h1M21 12.5h1M24 12.5h1M33 12.5h1M40 12.5h1M43 12.5h2M2 13.5h2M9 13.5h1M41 13.5h1M43 13.5h1M35 14.5h1M39 14.5h1M43 14.5h1M15 15.5h1M24 15.5h1M26 15.5h1M28 15.5h1M34 15.5h1M47 15.5h1M0 16.5h1M10 16.5h1M20 16.5h1M26 16.5h1M43 16.5h1M3 17.5h2M6 17.5h1M19 17.5h1M32 17.5h1M36 17.5h1M38 17.5h1M45 17.5h1M0 18.5h2M8 18.5h1M13 18.5h1M22 18.5h1M24 18.5h1M26 18.5h1M31 18.5h1M36 18.5h1M42 18.5h2M47 18.5h1M4 19.5h1M6 19.5h1M11 19.5h1M14 19.5h2M27 19.5h1M31 19.5h1M36 19.5h2M0 20.5h1M8 20.5h1M20 20.5h1M33 20.5h2M36 20.5h1M45 20.5h3M3 21.5h1M13 21.5h1M25 21.5h1M28 21.5h1M36 21.5h1M41 21.5h1M43 21.5h1M7 22.5h1M12 22.5h2M20 22.5h2M25 22.5h1M28 22.5h1M30 22.5h1M34 22.5h2M8 23.5h1M13 23.5h1M15 23.5h1M17 23.5h1M24 23.5h2M37 23.5h1M42 23.5h1M1 24.5h1M15 24.5h1M23 24.5h1M4 25.5h1M14 25.5h1M22 25.5h1M36 25.5h1M43 25.5h1M47 25.5h1M5 26.5h1M21 26.5h1M25 26.5h1M27 26.5h1M29 26.5h1M31 26.5h1M35 26.5h1M40 26.5h1M46 26.5h1M6 27.5h1M20 27.5h1M34 27.5h1M38 27.5h1M40 27.5h1M46 27.5h1M0 28.5h1M3 28.5h2M6 28.5h1M17 28.5h1M26 28.5h1M38 28.5h1M45 28.5h1M4 29.5h1M10 29.5h1M12 29.5h1M14 29.5h1M32 29.5h2M36 29.5h2M7 30.5h1M9 30.5h1M20 30.5h1M23 30.5h1M36 30.5h2M39 30.5h1M3 31.5h2M22 31.5h1M30 31.5h1M38 31.5h3M0 32.5h1M9 32.5h1M21 32.5h1M25 32.5h1M27 32.5h1M35 32.5h1M37 32.5h1M39 32.5h1M47 32.5h1M0 33.5h1M7 33.5h1M12 33.5h1M18 33.5h1M22 33.5h1M25 33.5h1M27 33.5h1M35 33.5h3M39 33.5h2M45 33.5h1M0 34.5h1M10 34.5h1M16 34.5h1M20 34.5h1M29 34.5h1M39 34.5h1M1 35.5h1M4 35.5h3M15 35.5h1M17 35.5h1M23 35.5h2M27 35.5h1M36 35.5h1M47 35.5h1M1 36.5h1M3 36.5h2M37 36.5h2M42 36.5h1M44 36.5h1M1 37.5h1M3 37.5h1M5 37.5h1M25 37.5h1M0 38.5h1M14 38.5h1M18 38.5h1M26 38.5h1M28 38.5h1M30 38.5h1M32 38.5h1M34 38.5h1M1 39.5h2M17 39.5h2M21 39.5h1M32 39.5h2M41 39.5h2M47 39.5h1M9 40.5h1M13 40.5h1M16 40.5h1M19 40.5h2M26 40.5h1M30 40.5h1M2 41.5h3M12 41.5h1M14 41.5h1M17 41.5h1M25 41.5h1M35 41.5h1M39 41.5h1M3 42.5h1M9 42.5h1M13 42.5h1M16 42.5h1M20 42.5h1M22 42.5h1M25 42.5h1M30 42.5h1M32 42.5h1M35 42.5h1M5 43.5h2M13 43.5h1M15 43.5h1M20 43.5h1M28 43.5h1M33 43.5h1M39 43.5h1M42 43.5h2M45 43.5h2M15 44.5h2M19 44.5h1M21 44.5h1M28 44.5h1M34 44.5h1M42 44.5h3M46 44.5h1M0 45.5h1M2 45.5h2M6 45.5h1M15 45.5h1M20 45.5h1M32 45.5h1M39 45.5h1M4 46.5h1M15 46.5h1M25 46.5h1M27 46.5h1M39 46.5h3M6 47.5h3M19 47.5h1M21 47.5h1M28 47.5h1M34 47.5h1M42 47.5h1M46 47.5h2"/><path stroke="#0bbdbd" d="M0 0.5h1M15 0.5h1M1 1.5h1M11 1.5h1M3 2.5h1M6 2.5h1M9 2.5h1M17 2.5h2M21 2.5h1M16 4.5h1M23 4.5h1M1 6.5h1M5 6.5h1M20 6.5h1M18 7.5h1M2 8.5h1M10 8.5h1M15 8.5h1M6 9.5h1M8 9.5h1M11 9.5h1M15 9.5h1M8 10.5h1M23 10.5h1M8 11.5h1M20 11.5h1M5 12.5h1M16 12.5h1M12 13.5h2M17 13.5h1M21 13.5h1M2 14.5h1M11 14.5h1M0 15.5h1M3 15.5h1M1 16.5h1M9 16.5h1M0 17.5h2M14 17.5h1M21 17.5h1M18 18.5h1M13 19.5h1M19 19.5h1M22 19.5h1M23 20.5h1M2 21.5h1M12 21.5h1M16 21.5h1M19 21.5h1M23 21.5h1M3 22.5h1M8 22.5h1M10 22.5h1M2 23.5h1M19 23.5h1M21 24.5h2M0 25.5h1M10 25.5h1M15 27.5h1M21 28.5h1M13 29.5h1M15 29.5h1M10 30.5h2M19 30.5h1M6 31.5h1M1 32.5h1M5 32.5h1M7 32.5h1M2 33.5h2M2 34.5h1M9 34.5h1M10 35.5h1M16 35.5h1M2 36.5h1M9 36.5h1M6 37.5h1M4 38.5h1M17 38.5h1M20 38.5h1M13 39.5h1M20 39.5h1M0 40.5h1M15 40.5h1M22 40.5h1M6 41.5h1M11 41.5h1M15 41.5h1M6 42.5h1M22 43.5h1M4 44.5h1M9 45.5h1M13 45.5h2M11 46.5h1M17 46.5h1M9 47.5h1M20 47.5h1M23 47.5h1"/><path stroke="#2cc4a7" d="M12 0.5h1M16 0.5h1M21 0.5h1M15 1.5h1M19 1.5h1M21 1.5h1M20 2.5h1M7 3.5h1M9 3.5h1M16 3.5h1M20 3.5h1M0 4.5h1M13 5.5h1M15 5.5h1M19 5.5h2M9 6.5h1M17 6.5h1M22 6.5h1M8 7.5h1M12 7.5h1M16 7.5h1M8 8.5h1M13 8.5h2M19 8.5h1M22 8.5h1M10 9.5h1M19 9.5h1M21 9.5h1M0 10.5h1M2 10.5h1M9 10.5h1M11 10.5h1M16 10.5h1M4 11.5h1M15 11.5h1M19 12.5h1M0 13.5h1M5 13.5h1M14 13.5h1M18 13.5h1M23 13.5h1M14 14.5h1M20 14.5h2M1 15.5h1M10 15.5h1M5 16.5h1M7 16.5h1M12 16.5h2M19 16.5h1M12 17.5h1M4 18.5h1M10 18.5h1M17 18.5h1M19 18.5h2M7 19.5h1M9 19.5h1M20 19.5h1M7 20.5h1M12 20.5h2M19 20.5h1M0 21.5h1M15 21.5h1M21 21.5h2M5 22.5h1M14 22.5h1M0 23.5h1M7 23.5h1M21 23.5h1M23 23.5h1M2 24.5h1M19 24.5h1M2 25.5h1M13 25.5h1M15 25.5h1M17 25.5h1M21 25.5h1M0 26.5h3M11 26.5h2M19 26.5h1M22 26.5h2M0 27.5h1M10 27.5h1M13 27.5h1M1 28.5h1M14 28.5h1M19 28.5h1M1 29.5h1M16 29.5h1M11 32.5h1M16 32.5h1M11 33.5h1M16 33.5h1M20 33.5h1M8 34.5h1M7 36.5h2M10 36.5h1M18 36.5h1M12 37.5h1M16 37.5h2M7 38.5h1M9 38.5h2M3 39.5h1M19 39.5h1M2 40.5h1M8 40.5h1M21 40.5h1M0 41.5h2M13 41.5h1M20 41.5h1M23 41.5h1M1 42.5h1M18 42.5h2M1 43.5h1M3 43.5h1M7 43.5h1M9 43.5h1M1 44.5h2M7 44.5h1M7 45.5h2M3 46.5h1M9 46.5h1M12 46.5h1M16 46.5h1M20 46.5h2M1 47.5h1M13 47.5h2"/><path stroke="#3fca8e" d="M2 0.5h1M5 0.5h1M23 0.5h1M8 1.5h1M10 1.5h1M12 1.5h1M14 1.5h1M18 1.5h1M16 2.5h1M1 3.5h1M4 3.5h1M15 3.5h1M10 4.5h1M13 4.5h1M21 4.5h1M2 5.5h1M5 7.5h1M7 7.5h1M13 7.5h1M20 7.5h1M20 8.5h1M17 10.5h1M1 11.5h2M11 11.5h1M19 11.5h1M2 12.5h1M7 13.5h1M11 13.5h1M9 14.5h1M15 14.5h2M22 14.5h2M7 15.5h1M11 15.5h2M17 15.5h1M23 15.5h1M2 16.5h1M4 16.5h1M22 16.5h1M7 18.5h1M15 18.5h2M23 18.5h1M2 20.5h1M4 20.5h1M11 20.5h1M6 21.5h1M9 21.5h1M17 21.5h1M9 22.5h1M19 22.5h1M1 23.5h1M6 23.5h1M12 23.5h1M16 23.5h1M10 24.5h1M17 24.5h1M9 25.5h1M10 26.5h1M2 27.5h1M4 27.5h1M8 28.5h1M20 28.5h1M0 29.5h1M3 29.5h1M20 29.5h1M4 30.5h1M17 30.5h1M10 31.5h2M21 31.5h1M2 32.5h1M5 33.5h1M1 34.5h1M21 34.5h2M0 35.5h1M13 35.5h1M21 36.5h1M23 36.5h1M9 37.5h1M19 37.5h1M1 38.5h1M9 39.5h1M22 39.5h2M23 40.5h1M22 41.5h1M23 42.5h1M18 43.5h1M21 43.5h1M17 44.5h1M1 45.5h1M10 45.5h2M7 46.5h2M10 46.5h1M22 46.5h1M12 47.5h1M16 47.5h1M22 47.5h1"/><path stroke="#72cd64" d="M22 0.5h1M2 2.5h1M19 2.5h1M2 3.5h1M5 4.5h1M1 5.5h1M3 6.5h1M19 6.5h1M11 7.5h1M21 7.5h1M3 8.5h1M13 10.5h1M9 12.5h1M3 14.5h1M13 14.5h1M20 15.5h1M3 16.5h1M7 17.5h1M20 17.5h1M11 18.5h1M3 20.5h1M20 21.5h1M1 22.5h1M15 22.5h1M18 23.5h1M3 25.5h1M8 25.5h1M18 25.5h1M6 26.5h1M17 26.5h1M7 27.5h1M11 27.5h2M10 28.5h1M16 28.5h1M2 29.5h1M5 29.5h1M19 29.5h1M0 31.5h1M2 31.5h1M5 31.5h1M13 31.5h1M3 34.5h2M10 37.5h1M11 40.5h1M14 42.5h1M21 42.5h1M10 43.5h1M18 44.5h1M22 45.5h1"/><path stroke="#abc739" d="M11 0.5h1M0 1.5h1M9 1.5h1M8 2.5h1M19 3.5h1M21 3.5h1M7 4.5h1M23 6.5h1M5 9.5h1M9 9.5h1M16 9.5h1M10 12.5h1M23 12.5h1M15 13.5h1M13 17.5h1M5 18.5h1M10 23.5h1M16 30.5h1M3 32.5h1M20 37.5h1M16 45.5h1M19 46.5h1M23 46.5h1M2 47.5h1"/><path stroke="#f0ba36" d="M16 1.5h1M23 1.5h1M22 4.5h1M17 5.5h1M23 7.5h1M17 9.5h1M15 12.5h1M13 15.5h1M16 19.5h1M11 23.5h1M13 24.5h1M1 25.5h1M12 25.5h1M22 28.5h1M21 29.5h1M2 30.5h1M19 32.5h1M11 44.5h1M11 47.5h1M15 47.5h1"/><path stroke="#f7f51b" d="M14 20.5h1M10 32.5h1M8 33.5h1"/></svg>
<svg x="405.1" y="383.9" width="24.8" height="232.8" viewBox="0 0 2 48" preserveAspectRatio="none" shape-rendering="crispEdges"><path stroke="#4332cb" d="M0 0.5h1M0 1.5h1M1 3.5h1M1 4.5h1M0 5.5h2M0 7.5h1M1 9.5h1M0 10.5h2M0 11.5h1M0 12.5h1M1 14.5h1M1 15.5h1M1 16.5h1M1 17.5h1M0 18.5h1M1 19.5h1M0 20.5h1M0 21.5h1M1 22.5h1M1 23.5h1M0 24.5h2M0 26.5h1M0 27.5h1M1 28.5h1M0 30.5h1M0 31.5h1M1 33.5h1M0 34.5h1M0 36.5h1M1 38.5h1M0 39.5h2M0 40.5h1M1 42.5h1M1 43.5h1M1 44.5h1M1 46.5h1M1 47.5h1"/><path stroke="#4537d5" d="M0 4.5h1"/><path stroke="#4741e5" d="M0 32.5h2"/><path stroke="#4747eb" d="M1 40.5h1M0 47.5h1"/><path stroke="#484df0" d="M1 7.5h1M1 11.5h1M1 18.5h1M0 19.5h1M0 35.5h1M0 42.5h1"/><path stroke="#4852f4" d="M0 15.5h1"/><path stroke="#4758f8" d="M1 0.5h1M0 8.5h1M0 37.5h1"/><path stroke="#465efb" d="M1 1.5h1M0 3.5h1M1 45.5h1"/><path stroke="#4563fd" d="M0 6.5h1M0 13.5h1M1 20.5h1M1 21.5h1M0 22.5h1M0 25.5h1M0 28.5h1M1 31.5h1M0 41.5h1"/><path stroke="#4269fe" d="M0 17.5h1M1 35.5h1M0 44.5h1M0 45.5h1"/><path stroke="#2d8cf3" d="M0 14.5h1"/><path stroke="#2b91ef" d="M1 6.5h1M1 13.5h1M0 16.5h1M0 43.5h1M0 46.5h1"/><path stroke="#23a0e5" d="M1 8.5h1M0 23.5h1"/><path stroke="#20a5e3" d="M0 9.5h1M1 27.5h1M0 33.5h1M0 38.5h1"/><path stroke="#1ca9df" d="M1 36.5h1"/><path stroke="#08b5d0" d="M0 29.5h1"/><path stroke="#0bbdbd" d="M1 37.5h1M1 41.5h1"/><path stroke="#19bfb6" d="M1 12.5h1M1 26.5h1"/><path stroke="#2cc4a7" d="M1 25.5h1"/><path stroke="#64cd6f" d="M1 30.5h1"/><path stroke="#b9c431" d="M1 29.5h1"/><path stroke="#d1bf27" d="M0 2.5h1"/><path stroke="#f7f51b" d="M1 2.5h1M1 34.5h1"/></svg>
<defs><linearGradient id="cb1" x1="0" x2="1" y1="0" y2="0"><stop offset="0.0000" stop-color="#3e26a8"/><stop offset="0.0625" stop-color="#4537d5"/><stop offset="0.1250" stop-color="#484df0"/><stop offset="0.1875" stop-color="#4563fd"/><stop offset="0.2500" stop-color="#327cfc"/><stop offset="0.3125" stop-color="#2b91ef"/><stop offset="0.3750" stop-color="#20a5e3"/><stop offset="0.4375" stop-color="#08b5d0"/><stop offset="0.5000" stop-color="#19bfb6"/><stop offset="0.5625" stop-color="#31c69f"/><stop offset="0.6250" stop-color="#57cc7a"/><stop offset="0.6875" stop-color="#8fcb4e"/><stop offset="0.7500" stop-color="#c5c22a"/><stop offset="0.8125" stop-color="#f0ba36"/><stop offset="0.8750" stop-color="#fec934"/><stop offset="0.9375" stop-color="#f5e327"/><stop offset="1.0000" stop-color="#f9fb15"/></linearGradient></defs><rect x="27.1" y="291.6" width="23" height="8.7" fill="url(#cb1)"/>
<defs><linearGradient id="cb2" x1="0" x2="1" y1="0" y2="0"><stop offset="0.0000" stop-color="#3e26a8"/><stop offset="0.0625" stop-color="#4537d5"/><stop offset="0.1250" stop-color="#484df0"/><stop offset="0.1875" stop-color="#4563fd"/><stop offset="0.2500" stop-color="#327cfc"/><stop offset="0.3125" stop-color="#2b91ef"/><stop offset="0.3750" stop-color="#20a5e3"/><stop offset="0.4375" stop-color="#08b5d0"/><stop offset="0.5000" stop-color="#19bfb6"/><stop offset="0.5625" stop-color="#31c69f"/><stop offset="0.6250" stop-color="#57cc7a"/><stop offset="0.6875" stop-color="#8fcb4e"/><stop offset="0.7500" stop-color="#c5c22a"/><stop offset="0.8125" stop-color="#f0ba36"/><stop offset="0.8750" stop-color="#fec934"/><stop offset="0.9375" stop-color="#f5e327"/><stop offset="1.0000" stop-color="#f9fb15"/></linearGradient></defs><rect x="296.8" y="291.6" width="23.2" height="8.7" fill="url(#cb2)"/>
<defs><linearGradient id="cb3" x1="0" x2="1" y1="0" y2="0"><stop offset="0.0000" stop-color="#3e26a8"/><stop offset="0.0625" stop-color="#4537d5"/><stop offset="0.1250" stop-color="#484df0"/><stop offset="0.1875" stop-color="#4563fd"/><stop offset="0.2500" stop-color="#327cfc"/><stop offset="0.3125" stop-color="#2b91ef"/><stop offset="0.3750" stop-color="#20a5e3"/><stop offset="0.4375" stop-color="#08b5d0"/><stop offset="0.5000" stop-color="#19bfb6"/><stop offset="0.5625" stop-color="#31c69f"/><stop offset="0.6250" stop-color="#57cc7a"/><stop offset="0.6875" stop-color="#8fcb4e"/><stop offset="0.7500" stop-color="#c5c22a"/><stop offset="0.8125" stop-color="#f0ba36"/><stop offset="0.8750" stop-color="#fec934"/><stop offset="0.9375" stop-color="#f5e327"/><stop offset="1.0000" stop-color="#f9fb15"/></linearGradient></defs><rect x="27.1" y="621.8" width="23" height="8.7" fill="url(#cb3)"/>
<defs><linearGradient id="cb4" x1="0" x2="1" y1="0" y2="0"><stop offset="0.0000" stop-color="#3e26a8"/><stop offset="0.0625" stop-color="#4537d5"/><stop offset="0.1250" stop-color="#484df0"/><stop offset="0.1875" stop-color="#4563fd"/><stop offset="0.2500" stop-color="#327cfc"/><stop offset="0.3125" stop-color="#2b91ef"/><stop offset="0.3750" stop-color="#20a5e3"/><stop offset="0.4375" stop-color="#08b5d0"/><stop offset="0.5000" stop-color="#19bfb6"/><stop offset="0.5625" stop-color="#31c69f"/><stop offset="0.6250" stop-color="#57cc7a"/><stop offset="0.6875" stop-color="#8fcb4e"/><stop offset="0.7500" stop-color="#c5c22a"/><stop offset="0.8125" stop-color="#f0ba36"/><stop offset="0.8750" stop-color="#fec934"/><stop offset="0.9375" stop-color="#f5e327"/><stop offset="1.0000" stop-color="#f9fb15"/></linearGradient></defs><rect x="296.8" y="621.8" width="23.2" height="8.7" fill="url(#cb4)"/>
<defs><linearGradient id="cb5" x1="0" x2="1" y1="0" y2="0"><stop offset="0.0000" stop-color="#3e26a8"/><stop offset="0.0625" stop-color="#4537d5"/><stop offset="0.1250" stop-color="#484df0"/><stop offset="0.1875" stop-color="#4563fd"/><stop offset="0.2500" stop-color="#327cfc"/><stop offset="0.3125" stop-color="#2b91ef"/><stop offset="0.3750" stop-color="#20a5e3"/><stop offset="0.4375" stop-color="#08b5d0"/><stop offset="0.5000" stop-color="#19bfb6"/><stop offset="0.5625" stop-color="#31c69f"/><stop offset="0.6250" stop-color="#57cc7a"/><stop offset="0.6875" stop-color="#8fcb4e"/><stop offset="0.7500" stop-color="#c5c22a"/><stop offset="0.8125" stop-color="#f0ba36"/><stop offset="0.8750" stop-color="#fec934"/><stop offset="0.9375" stop-color="#f5e327"/><stop offset="1.0000" stop-color="#f9fb15"/></linearGradient></defs><rect x="405.1" y="621.8" width="23.2" height="8.5" fill="url(#cb5)"/>
<defs><linearGradient id="cb6" x1="0" x2="1" y1="0" y2="0"><stop offset="0.0000" stop-color="#3e26a8"/><stop offset="0.0625" stop-color="#4537d5"/><stop offset="0.1250" stop-color="#484df0"/><stop offset="0.1875" stop-color="#4563fd"/><stop offset="0.2500" stop-color="#327cfc"/><stop offset="0.3125" stop-color="#2b91ef"/><stop offset="0.3750" stop-color="#20a5e3"/><stop offset="0.4375" stop-color="#08b5d0"/><stop offset="0.5000" stop-color="#19bfb6"/><stop offset="0.5625" stop-color="#31c69f"/><stop offset="0.6250" stop-color="#57cc7a"/><stop offset="0.6875" stop-color="#8fcb4e"/><stop offset="0.7500" stop-color="#c5c22a"/><stop offset="0.8125" stop-color="#f0ba36"/><stop offset="0.8750" stop-color="#fec934"/><stop offset="0.9375" stop-color="#f5e327"/><stop offset="1.0000" stop-color="#f9fb15"/></linearGradient></defs><rect x="674.6" y="621.8" width="23.2" height="8.5" fill="url(#cb6)"/>
<text x="24.5" y="310" font-size="10.5" text-anchor="middle" font-family='"Liberation Sans", sans-serif' fill="#262626" >-6</text>
<text x="51.6" y="310" font-size="10.5" text-anchor="middle" font-family='"Liberation Sans", sans-serif' fill="#262626" >8</text>
<text x="290" y="310" font-size="10.5" text-anchor="middle" font-family='"Liberation Sans", sans-serif' fill="#262626" >-15</text>
<text x="323.8" y="310" font-size="10.5" text-anchor="middle" font-family='"Liberation Sans", sans-serif' fill="#262626" >20</text>
<text x="20.4" y="640" font-size="10.5" text-anchor="middle" font-family='"Liberation Sans", sans-serif' fill="#262626" >-12</text>
<text x="53.5" y="640" font-size="10.5" text-anchor="middle" font-family='"Liberation Sans", sans-serif' fill="#262626" >-2</text>
<text x="290.5" y="640" font-size="10.5" text-anchor="middle" font-family='"Liberation Sans", sans-serif' fill="#262626" >-10</text>
<text x="323.5" y="640" font-size="10.5" text-anchor="middle" font-family='"Liberation Sans", sans-serif' fill="#262626" >10</text>
<text x="405" y="640" font-size="10.5" text-anchor="middle" font-family='"Liberation Sans", sans-serif' fill="#262626" >0</text>
<text x="430" y="640" font-size="10.5" text-anchor="middle" font-family='"Liberation Sans", sans-serif' fill="#262626" >9</text>
<text x="668.5" y="640" font-size="10.5" text-anchor="middle" font-family='"Liberation Sans", sans-serif' fill="#262626" >-15</text>
<text x="701.3" y="640" font-size="10.5" text-anchor="middle" font-family='"Liberation Sans", sans-serif' fill="#262626" >20</text>
<text x="0" y="28.2" font-size="33" text-anchor="start" font-family='"Liberation Sans", sans-serif' fill="#000" >a</text>
<text x="373" y="28.2" font-size="33" text-anchor="start" font-family='"Liberation Sans", sans-serif' fill="#000" >b</text>
<text x="0" y="361.3" font-size="33" text-anchor="start" font-family='"Liberation Sans", sans-serif' fill="#000" >c</text>
<text x="373" y="361.3" font-size="33" text-anchor="start" font-family='"Liberation Sans", sans-serif' fill="#000" >d</text>
<text x="0" y="681.8" font-size="33" text-anchor="start" font-family='"Liberation Sans", sans-serif' fill="#000" >e</text>
<text x="374" y="681.8" font-size="33" text-anchor="start" font-family='"Liberation Sans", sans-serif' fill="#000" >f</text>
<text x="28.2" y="47.6" font-family='"Liberation Serif", serif' font-size="22.4" font-weight="bold" stroke="#000" stroke-width="0.35">W<tspan font-weight="normal" stroke="none" font-style="italic" font-size="12.5" dy="-13">in</tspan></text>
<text x="175.6" y="47.6" font-family='"Liberation Serif", serif' font-size="22.4" font-weight="bold" stroke="#000" stroke-width="0.35">W<tspan font-weight="normal" stroke="none" font-style="italic" font-size="12.5" dy="-13">rec</tspan></text>
<text x="28.2" y="378.2" font-family='"Liberation Serif", serif' font-size="22.4" font-weight="bold" stroke="#000" stroke-width="0.35">W<tspan font-weight="normal" stroke="none" font-style="italic" font-size="12.5" dy="-13">in</tspan></text>
<text x="175.6" y="378.2" font-family='"Liberation Serif", serif' font-size="22.4" font-weight="bold" stroke="#000" stroke-width="0.35">W<tspan font-weight="normal" stroke="none" font-style="italic" font-size="12.5" dy="-13">rec</tspan></text>
<text x="405.8" y="377.8" font-family='"Liberation Serif", serif' font-size="22.4" font-weight="bold" stroke="#000" stroke-width="0.35">W<tspan font-weight="normal" stroke="none" font-style="italic" font-size="12.5" dy="-13">in</tspan></text>
<text x="553" y="378.2" font-family='"Liberation Serif", serif' font-size="22.4" font-weight="bold" stroke="#000" stroke-width="0.35">W<tspan font-weight="normal" stroke="none" font-style="italic" font-size="12.5" dy="-13">rec</tspan></text>
<path d="M443.4 54.3V286.3H699.2" stroke="#262626" stroke-width="1.3" fill="none"/>
<text x="439.6" y="245.32" font-size="15.3" text-anchor="end" font-family='"Liberation Sans", sans-serif' fill="#262626" >0.2</text>
<text x="439.6" y="198.94" font-size="15.3" text-anchor="end" font-family='"Liberation Sans", sans-serif' fill="#262626" >0.4</text>
<text x="439.6" y="152.56" font-size="15.3" text-anchor="end" font-family='"Liberation Sans", sans-serif' fill="#262626" >0.6</text>
<text x="439.6" y="106.18" font-size="15.3" text-anchor="end" font-family='"Liberation Sans", sans-serif' fill="#262626" >0.8</text>
<text x="439.6" y="59.80" font-size="15.3" text-anchor="end" font-family='"Liberation Sans", sans-serif' fill="#262626" >1.0</text>
<text x="485.32" y="302.6" font-size="15.3" text-anchor="middle" font-family='"Liberation Sans", sans-serif' fill="#262626" >20</text>
<text x="527.54" y="302.6" font-size="15.3" text-anchor="middle" font-family='"Liberation Sans", sans-serif' fill="#262626" >40</text>
<text x="569.76" y="302.6" font-size="15.3" text-anchor="middle" font-family='"Liberation Sans", sans-serif' fill="#262626" >60</text>
<text x="611.98" y="302.6" font-size="15.3" text-anchor="middle" font-family='"Liberation Sans", sans-serif' fill="#262626" >80</text>
<text x="654.20" y="302.6" font-size="15.3" text-anchor="middle" font-family='"Liberation Sans", sans-serif' fill="#262626" >100</text>
<text x="696.42" y="302.6" font-size="15.3" text-anchor="middle" font-family='"Liberation Sans", sans-serif' fill="#262626" >120</text>
<path d="M443.4 239.92h3M443.4 193.54h3M443.4 147.16h3M443.4 100.78h3M443.4 54.40h3M485.32 286.3v-3M527.54 286.3v-3M569.76 286.3v-3M611.98 286.3v-3M654.20 286.3v-3M696.42 286.3v-3" stroke="#262626" stroke-width="1" fill="none"/>
<text x="571.1" y="325.2" font-size="19.6" text-anchor="middle" font-family='"Liberation Sans", sans-serif' fill="#000" >Iteration</text>
<path d="M445.21,73.65 445.39,98.86 445.56,119.61 445.74,136.41 445.91,149.88 446.09,160.94 446.27,170.23 446.44,178.17 446.62,185.04 446.79,191.01 446.97,196.28 447.15,200.97 447.32,205.20 447.50,209.04 447.67,212.57 447.85,215.82 448.03,218.80 448.20,221.51 448.38,223.98 448.55,226.22 448.73,228.25 448.91,230.08 449.08,231.75 449.26,233.29 449.43,234.72 449.86,237.83 450.61,242.64 451.37,246.64 452.12,249.95 452.88,252.70 453.63,255.01 454.39,256.99 455.14,258.72 455.90,260.26 456.65,261.65 457.41,262.92 458.17,264.06 458.92,265.11 459.68,266.06 460.43,266.94 461.19,267.75 461.94,268.50 462.70,269.20 463.45,269.86 464.21,270.47 466.32,271.98 469.97,274.08 473.61,275.67 477.26,276.91 480.91,277.90 484.55,278.72 488.20,279.42 491.84,280.03 495.49,280.54 499.14,280.98 502.78,281.36 506.43,281.69 512.76,282.18 526.03,282.97 539.30,283.55 552.57,283.98 565.84,284.29 579.11,284.54 592.38,284.74 605.65,284.91 618.92,285.05 632.19,285.17 645.45,285.27 658.72,285.36 671.99,285.43 685.26,285.50 698.53,285.56" stroke="#0072bd" stroke-width="1.05" fill="none"/>
<circle cx="398.3" cy="164.1" r="1.7" fill="#000"/><path d="M399 163.1C396.6 163.2 395.9 166.4 397.9 168.4C400.2 170.6 405 171.6 408.6 173.4L410.9 175.9M407.3 162.1C409.6 163.3 410.6 165.6 410.1 168.1C409.7 170.2 409.1 172 408.6 173.4" stroke="#000" stroke-width="1.5" fill="none"/>
<path d="M59.8 697.4V929.8H319.4" stroke="#262626" stroke-width="1.3" fill="none"/>
<text x="56.1" y="933.10" font-size="15.3" text-anchor="end" font-family='"Liberation Sans", sans-serif' fill="#262626" >-0.5</text>
<text x="56.1" y="904.35" font-size="15.3" text-anchor="end" font-family='"Liberation Sans", sans-serif' fill="#262626" >0</text>
<text x="56.1" y="875.60" font-size="15.3" text-anchor="end" font-family='"Liberation Sans", sans-serif' fill="#262626" >0.5</text>
<text x="56.1" y="846.85" font-size="15.3" text-anchor="end" font-family='"Liberation Sans", sans-serif' fill="#262626" >1.0</text>
<text x="56.1" y="818.10" font-size="15.3" text-anchor="end" font-family='"Liberation Sans", sans-serif' fill="#262626" >1.5</text>
<text x="56.1" y="789.35" font-size="15.3" text-anchor="end" font-family='"Liberation Sans", sans-serif' fill="#262626" >2.0</text>
<text x="56.1" y="760.60" font-size="15.3" text-anchor="end" font-family='"Liberation Sans", sans-serif' fill="#262626" >2.5</text>
<text x="56.1" y="731.85" font-size="15.3" text-anchor="end" font-family='"Liberation Sans", sans-serif' fill="#262626" >3.0</text>
<text x="56.1" y="703.10" font-size="15.3" text-anchor="end" font-family='"Liberation Sans", sans-serif' fill="#262626" >3.5</text>
<text x="108.12" y="945.5" font-size="15.3" text-anchor="middle" font-family='"Liberation Sans", sans-serif' fill="#262626" >50</text>
<text x="156.45" y="945.5" font-size="15.3" text-anchor="middle" font-family='"Liberation Sans", sans-serif' fill="#262626" >100</text>
<text x="204.77" y="945.5" font-size="15.3" text-anchor="middle" font-family='"Liberation Sans", sans-serif' fill="#262626" >150</text>
<text x="253.10" y="945.5" font-size="15.3" text-anchor="middle" font-family='"Liberation Sans", sans-serif' fill="#262626" >200</text>
<text x="301.43" y="945.5" font-size="15.3" text-anchor="middle" font-family='"Liberation Sans", sans-serif' fill="#262626" >250</text>
<path d="M59.8 900.80h3M59.8 871.72h3M59.8 842.65h3M59.8 813.57h3M59.8 784.50h3M59.8 755.42h3M59.8 726.35h3M59.8 697.27h3M108.12 929.8v-3M156.45 929.8v-3M204.77 929.8v-3M253.10 929.8v-3M301.43 929.8v-3" stroke="#262626" stroke-width="1" fill="none"/>
<g stroke="#0072bd" fill="none" stroke-width="1"><path d="M83.00,765.89 98.46,846.95 113.92,888.30 129.39,879.87 144.85,893.82 160.32,895.57 175.78,883.94 191.24,886.26 206.71,891.90 222.17,887.60 237.64,886.84 253.10,888.01 268.56,891.67 284.03,885.10 299.49,894.98"/><path d="M83.00 719.37V812.99M80.20 719.37h5.6M80.20 812.99h5.6M98.46 827.24V866.20M95.66 827.24h5.6M95.66 866.20h5.6M113.92 874.63V901.96M111.12 874.63h5.6M111.12 901.96h5.6M129.39 860.68V899.06M126.59 860.68h5.6M126.59 899.06h5.6M144.85 881.61V906.03M142.05 881.61h5.6M142.05 906.03h5.6M160.32 887.72V903.71M157.52 887.72h5.6M157.52 903.71h5.6M175.78 870.56V897.31M172.98 870.56h5.6M172.98 897.31h5.6M191.24 876.38V897.31M188.44 876.38h5.6M188.44 897.31h5.6M206.71 879.69V904.52M203.91 879.69h5.6M203.91 904.52h5.6M222.17 869.98V906.32M219.37 869.98h5.6M219.37 906.32h5.6M237.64 873.47V899.99M234.84 873.47h5.6M234.84 899.99h5.6M253.10 870.56V905.74M250.30 870.56h5.6M250.30 905.74h5.6M268.56 883.35V901.38M265.76 883.35h5.6M265.76 901.38h5.6M284.03 869.11V901.96M281.23 869.11h5.6M281.23 901.96h5.6M299.49 884.23V905.22M296.69 884.23h5.6M296.69 905.22h5.6"/><circle cx="83.00" cy="765.89" r="2.9"/><circle cx="98.46" cy="846.95" r="2.9"/><circle cx="113.92" cy="888.30" r="2.9"/><circle cx="129.39" cy="879.87" r="2.9"/><circle cx="144.85" cy="893.82" r="2.9"/><circle cx="160.32" cy="895.57" r="2.9"/><circle cx="175.78" cy="883.94" r="2.9"/><circle cx="191.24" cy="886.26" r="2.9"/><circle cx="206.71" cy="891.90" r="2.9"/><circle cx="222.17" cy="887.60" r="2.9"/><circle cx="237.64" cy="886.84" r="2.9"/><circle cx="253.10" cy="888.01" r="2.9"/><circle cx="268.56" cy="891.67" r="2.9"/><circle cx="284.03" cy="885.10" r="2.9"/><circle cx="299.49" cy="894.98" r="2.9"/></g><g stroke="#d95319" fill="none" stroke-width="1"><path d="M106.19,816.83 121.66,857.54 137.12,879.87 152.58,887.19 168.05,893.82 183.51,883.94 198.98,891.90 214.44,890.91 229.90,891.50 245.37,889.17 260.83,888.01 276.30,887.43 291.76,890.33 307.22,888.59"/><path d="M106.19 791.48V842.36M103.39 791.48h5.6M103.39 842.36h5.6M121.66 824.33V890.91M118.86 824.33h5.6M118.86 890.91h5.6M137.12 860.68V899.06M134.32 860.68h5.6M134.32 899.06h5.6M152.58 866.49V907.78M149.78 866.49h5.6M149.78 907.78h5.6M168.05 882.19V906.03M165.25 882.19h5.6M165.25 906.03h5.6M183.51 868.24V906.62M180.71 868.24h5.6M180.71 906.62h5.6M198.98 880.45V901.96M196.18 880.45h5.6M196.18 901.96h5.6M214.44 881.61V904.29M211.64 881.61h5.6M211.64 904.29h5.6M229.90 880.45V904.87M227.10 880.45h5.6M227.10 904.87h5.6M245.37 871.72V906.03M242.57 871.72h5.6M242.57 906.03h5.6M260.83 872.31V905.45M258.03 872.31h5.6M258.03 905.45h5.6M276.30 875.21V903.71M273.50 875.21h5.6M273.50 903.71h5.6M291.76 874.05V906.62M288.96 874.05h5.6M288.96 906.62h5.6M307.22 870.56V907.49M304.42 870.56h5.6M304.42 907.49h5.6"/><circle cx="106.19" cy="816.83" r="2.9"/><circle cx="121.66" cy="857.54" r="2.9"/><circle cx="137.12" cy="879.87" r="2.9"/><circle cx="152.58" cy="887.19" r="2.9"/><circle cx="168.05" cy="893.82" r="2.9"/><circle cx="183.51" cy="883.94" r="2.9"/><circle cx="198.98" cy="891.90" r="2.9"/><circle cx="214.44" cy="890.91" r="2.9"/><circle cx="229.90" cy="891.50" r="2.9"/><circle cx="245.37" cy="889.17" r="2.9"/><circle cx="260.83" cy="888.01" r="2.9"/><circle cx="276.30" cy="887.43" r="2.9"/><circle cx="291.76" cy="890.33" r="2.9"/><circle cx="307.22" cy="888.59" r="2.9"/></g><g stroke="#edb120" fill="none" stroke-width="1"><path d="M152.58,881.61 168.05,885.10 183.51,897.89 198.98,891.90 214.44,897.89 229.90,899.06 245.37,890.33 260.83,893.82 276.30,891.50 291.76,890.33 307.22,891.50"/><path d="M152.58 858.35V904.58M149.78 858.35h5.6M149.78 904.58h5.6M168.05 869.40V900.22M165.25 869.40h5.6M165.25 900.22h5.6M183.51 889.75V904.87M180.71 889.75h5.6M180.71 904.87h5.6M198.98 882.77V901.96M196.18 882.77h5.6M196.18 901.96h5.6M214.44 890.91V904.87M211.64 890.91h5.6M211.64 904.87h5.6M229.90 893.24V904.87M227.10 893.24h5.6M227.10 904.87h5.6M245.37 878.12V903.71M242.57 878.12h5.6M242.57 903.71h5.6M260.83 877.54V906.62M258.03 877.54h5.6M258.03 906.62h5.6M276.30 880.45V904.29M273.50 880.45h5.6M273.50 904.29h5.6M291.76 874.05V906.62M288.96 874.05h5.6M288.96 906.62h5.6M307.22 879.28V904.29M304.42 879.28h5.6M304.42 904.29h5.6"/><circle cx="152.58" cy="881.61" r="2.9"/><circle cx="168.05" cy="885.10" r="2.9"/><circle cx="183.51" cy="897.89" r="2.9"/><circle cx="198.98" cy="891.90" r="2.9"/><circle cx="214.44" cy="897.89" r="2.9"/><circle cx="229.90" cy="899.06" r="2.9"/><circle cx="245.37" cy="890.33" r="2.9"/><circle cx="260.83" cy="893.82" r="2.9"/><circle cx="276.30" cy="891.50" r="2.9"/><circle cx="291.76" cy="890.33" r="2.9"/><circle cx="307.22" cy="891.50" r="2.9"/></g><g stroke="#7e2f8e" fill="none" stroke-width="1"><path d="M245.37,899.06 260.83,897.31 276.30,901.21 291.76,900.80 307.22,895.57"/><path d="M245.37 893.82V904.87M242.57 893.82h5.6M242.57 904.87h5.6M260.83 889.17V905.22M258.03 889.17h5.6M258.03 905.22h5.6M276.30 894.98V906.62M273.50 894.98h5.6M273.50 906.62h5.6M291.76 894.98V906.62M288.96 894.98h5.6M288.96 906.62h5.6M307.22 887.43V904.29M304.42 887.43h5.6M304.42 904.29h5.6"/><circle cx="245.37" cy="899.06" r="2.9"/><circle cx="260.83" cy="897.31" r="2.9"/><circle cx="276.30" cy="901.21" r="2.9"/><circle cx="291.76" cy="900.80" r="2.9"/><circle cx="307.22" cy="895.57" r="2.9"/></g>
<text transform="translate(20.2 811.7) rotate(-90)" text-anchor="middle" font-family='"Liberation Sans", sans-serif' font-size="19">log<tspan font-size="12" dy="4">10</tspan><tspan dy="-4">[# attempts]</tspan></text>
<text x="178.5" y="965.2" font-family='"Liberation Sans", sans-serif' font-size="21" font-style="italic">N<tspan font-size="13.5" dy="3">rec</tspan></text>
<text x="277" y="724.2" font-family='"Liberation Serif", serif' font-size="19" fill="#0072bd">τ = 3</text>
<text x="277" y="740.6" font-family='"Liberation Serif", serif' font-size="19" fill="#d95319">τ = 4</text>
<text x="277" y="757.0" font-family='"Liberation Serif", serif' font-size="19" fill="#edb120">τ = 5</text>
<text x="277" y="773.4" font-family='"Liberation Serif", serif' font-size="19" fill="#7e2f8e">τ = 6</text>
<path d="M436.9 696V929.7H696.8" stroke="#262626" stroke-width="1.3" fill="none"/>
<text x="433.2" y="934.90" font-size="15.3" text-anchor="end" font-family='"Liberation Sans", sans-serif' fill="#262626" >1.0</text>
<text x="433.2" y="901.50" font-size="15.3" text-anchor="end" font-family='"Liberation Sans", sans-serif' fill="#262626" >2.0</text>
<text x="433.2" y="868.10" font-size="15.3" text-anchor="end" font-family='"Liberation Sans", sans-serif' fill="#262626" >2.5</text>
<text x="433.2" y="834.70" font-size="15.3" text-anchor="end" font-family='"Liberation Sans", sans-serif' fill="#262626" >3.0</text>
<text x="433.2" y="801.30" font-size="15.3" text-anchor="end" font-family='"Liberation Sans", sans-serif' fill="#262626" >3.5</text>
<text x="433.2" y="767.90" font-size="15.3" text-anchor="end" font-family='"Liberation Sans", sans-serif' fill="#262626" >4.0</text>
<text x="433.2" y="734.50" font-size="15.3" text-anchor="end" font-family='"Liberation Sans", sans-serif' fill="#262626" >4.5</text>
<text x="433.2" y="701.10" font-size="15.3" text-anchor="end" font-family='"Liberation Sans", sans-serif' fill="#262626" >5.0</text>
<text x="485.30" y="945.5" font-size="15.3" text-anchor="middle" font-family='"Liberation Sans", sans-serif' fill="#262626" >50</text>
<text x="533.45" y="945.5" font-size="15.3" text-anchor="middle" font-family='"Liberation Sans", sans-serif' fill="#262626" >100</text>
<text x="581.60" y="945.5" font-size="15.3" text-anchor="middle" font-family='"Liberation Sans", sans-serif' fill="#262626" >150</text>
<text x="629.75" y="945.5" font-size="15.3" text-anchor="middle" font-family='"Liberation Sans", sans-serif' fill="#262626" >200</text>
<text x="677.90" y="945.5" font-size="15.3" text-anchor="middle" font-family='"Liberation Sans", sans-serif' fill="#262626" >250</text>
<path d="M436.9 896.40h3M436.9 863.00h3M436.9 829.60h3M436.9 796.20h3M436.9 762.80h3M436.9 729.40h3M436.9 696.00h3M485.30 929.7v-3M533.45 929.7v-3M581.60 929.7v-3M629.75 929.7v-3M677.90 929.7v-3" stroke="#262626" stroke-width="1" fill="none"/>
<g stroke="#0072bd" fill="none" stroke-width="1"><path d="M460.26,760.80 475.67,844.30 491.08,879.70 506.49,856.32 521.89,869.01 537.30,861.66 552.71,849.64 568.12,849.64 583.53,844.30 598.93,844.96 614.34,838.95 629.75,838.95 645.16,828.93 660.57,824.26 675.97,831.60"/><path d="M460.26 707.36V814.24M457.46 707.36h5.6M457.46 814.24h5.6M475.67 820.92V866.34M472.87 820.92h5.6M472.87 866.34h5.6M491.08 861.66V896.40M488.28 861.66h5.6M488.28 896.40h5.6M506.49 833.61V879.03M503.69 833.61h5.6M503.69 879.03h5.6M521.89 849.64V888.38M519.09 849.64h5.6M519.09 888.38h5.6M537.30 842.96V879.70M534.50 842.96h5.6M534.50 879.70h5.6M552.71 826.26V871.68M549.91 826.26h5.6M549.91 871.68h5.6M568.12 828.26V871.02M565.32 828.26h5.6M565.32 871.02h5.6M583.53 829.60V860.33M580.73 829.60h5.6M580.73 860.33h5.6M598.93 819.58V871.02M596.13 819.58h5.6M596.13 871.02h5.6M614.34 822.25V855.65M611.54 822.25h5.6M611.54 855.65h5.6M629.75 814.90V864.34M626.95 814.90h5.6M626.95 864.34h5.6M645.16 816.24V842.29M642.36 816.24h5.6M642.36 842.29h5.6M660.57 796.87V852.31M657.77 796.87h5.6M657.77 852.31h5.6M675.97 812.90V850.31M673.17 812.90h5.6M673.17 850.31h5.6"/><circle cx="460.26" cy="760.80" r="2.9"/><circle cx="475.67" cy="844.30" r="2.9"/><circle cx="491.08" cy="879.70" r="2.9"/><circle cx="506.49" cy="856.32" r="2.9"/><circle cx="521.89" cy="869.01" r="2.9"/><circle cx="537.30" cy="861.66" r="2.9"/><circle cx="552.71" cy="849.64" r="2.9"/><circle cx="568.12" cy="849.64" r="2.9"/><circle cx="583.53" cy="844.30" r="2.9"/><circle cx="598.93" cy="844.96" r="2.9"/><circle cx="614.34" cy="838.95" r="2.9"/><circle cx="629.75" cy="838.95" r="2.9"/><circle cx="645.16" cy="828.93" r="2.9"/><circle cx="660.57" cy="824.26" r="2.9"/><circle cx="675.97" cy="831.60" r="2.9"/></g><g stroke="#d95319" fill="none" stroke-width="1"><path d="M483.37,782.51 498.78,808.89 514.19,828.93 529.60,836.95 545.01,853.65 560.41,838.28 575.82,846.30 591.23,848.30 606.64,828.93 622.05,827.60 637.45,837.62 652.86,828.93 668.27,829.60 683.68,816.24"/><path d="M483.37 752.11V812.23M480.57 752.11h5.6M480.57 812.23h5.6M498.78 768.14V848.97M495.98 768.14h5.6M495.98 848.97h5.6M514.19 799.54V858.32M511.39 799.54h5.6M511.39 858.32h5.6M529.60 810.23V863.00M526.80 810.23h5.6M526.80 863.00h5.6M545.01 827.60V878.36M542.21 827.60h5.6M542.21 878.36h5.6M560.41 816.24V860.33M557.61 816.24h5.6M557.61 860.33h5.6M575.82 831.60V860.33M573.02 831.60h5.6M573.02 860.33h5.6M591.23 836.28V860.33M588.43 836.28h5.6M588.43 860.33h5.6M606.64 816.24V840.29M603.84 816.24h5.6M603.84 840.29h5.6M622.05 809.56V846.30M619.25 809.56h5.6M619.25 846.30h5.6M637.45 818.24V857.66M634.65 818.24h5.6M634.65 857.66h5.6M652.86 814.90V840.96M650.06 814.90h5.6M650.06 840.96h5.6M668.27 810.90V848.30M665.47 810.90h5.6M665.47 848.30h5.6M683.68 798.20V835.61M680.88 798.20h5.6M680.88 835.61h5.6"/><circle cx="483.37" cy="782.51" r="2.9"/><circle cx="498.78" cy="808.89" r="2.9"/><circle cx="514.19" cy="828.93" r="2.9"/><circle cx="529.60" cy="836.95" r="2.9"/><circle cx="545.01" cy="853.65" r="2.9"/><circle cx="560.41" cy="838.28" r="2.9"/><circle cx="575.82" cy="846.30" r="2.9"/><circle cx="591.23" cy="848.30" r="2.9"/><circle cx="606.64" cy="828.93" r="2.9"/><circle cx="622.05" cy="827.60" r="2.9"/><circle cx="637.45" cy="837.62" r="2.9"/><circle cx="652.86" cy="828.93" r="2.9"/><circle cx="668.27" cy="829.60" r="2.9"/><circle cx="683.68" cy="816.24" r="2.9"/></g><g stroke="#edb120" fill="none" stroke-width="1"><path d="M529.60,783.51 545.01,782.84 560.41,807.56 575.82,813.57 591.23,818.24 606.64,828.26 622.05,812.90 637.45,829.60 652.86,816.91 668.27,818.24 683.68,812.23"/><path d="M529.60 748.77V818.91M526.80 748.77h5.6M526.80 818.91h5.6M545.01 747.44V818.91M542.21 747.44h5.6M542.21 818.91h5.6M560.41 783.51V832.27M557.61 783.51h5.6M557.61 832.27h5.6M575.82 783.51V844.96M573.02 783.51h5.6M573.02 844.96h5.6M591.23 794.20V838.95M588.43 794.20h5.6M588.43 838.95h5.6M606.64 810.23V844.96M603.84 810.23h5.6M603.84 844.96h5.6M622.05 800.88V826.26M619.25 800.88h5.6M619.25 826.26h5.6M637.45 813.57V844.30M634.65 813.57h5.6M634.65 844.30h5.6M652.86 799.54V833.61M650.06 799.54h5.6M650.06 833.61h5.6M668.27 802.21V834.28M665.47 802.21h5.6M665.47 834.28h5.6M683.68 796.87V826.93M680.88 796.87h5.6M680.88 826.93h5.6"/><circle cx="529.60" cy="783.51" r="2.9"/><circle cx="545.01" cy="782.84" r="2.9"/><circle cx="560.41" cy="807.56" r="2.9"/><circle cx="575.82" cy="813.57" r="2.9"/><circle cx="591.23" cy="818.24" r="2.9"/><circle cx="606.64" cy="828.26" r="2.9"/><circle cx="622.05" cy="812.90" r="2.9"/><circle cx="637.45" cy="829.60" r="2.9"/><circle cx="652.86" cy="816.91" r="2.9"/><circle cx="668.27" cy="818.24" r="2.9"/><circle cx="683.68" cy="812.23" r="2.9"/></g><g stroke="#7e2f8e" fill="none" stroke-width="1"><path d="M622.05,777.50 637.45,771.48 652.86,796.20 668.27,792.86 683.68,768.81"/><path d="M622.05 750.11V805.55M619.25 750.11h5.6M619.25 805.55h5.6M637.45 739.42V802.88M634.65 739.42h5.6M634.65 802.88h5.6M652.86 777.50V815.57M650.06 777.50h5.6M650.06 815.57h5.6M668.27 775.49V810.90M665.47 775.49h5.6M665.47 810.90h5.6M683.68 737.42V800.21M680.88 737.42h5.6M680.88 800.21h5.6"/><circle cx="622.05" cy="777.50" r="2.9"/><circle cx="637.45" cy="771.48" r="2.9"/><circle cx="652.86" cy="796.20" r="2.9"/><circle cx="668.27" cy="792.86" r="2.9"/><circle cx="683.68" cy="768.81" r="2.9"/></g>
<text transform="translate(402.6 810.8) rotate(-90)" text-anchor="middle" font-family='"Liberation Sans", sans-serif' font-size="19.3">log<tspan font-size="12" dy="4">10</tspan><tspan dy="-4">[Running time (ms)]</tspan></text>
<text x="555.7" y="965.2" font-family='"Liberation Sans", sans-serif' font-size="21" font-style="italic">N<tspan font-size="13.5" dy="3">rec</tspan></text>
</svg></body></html>
